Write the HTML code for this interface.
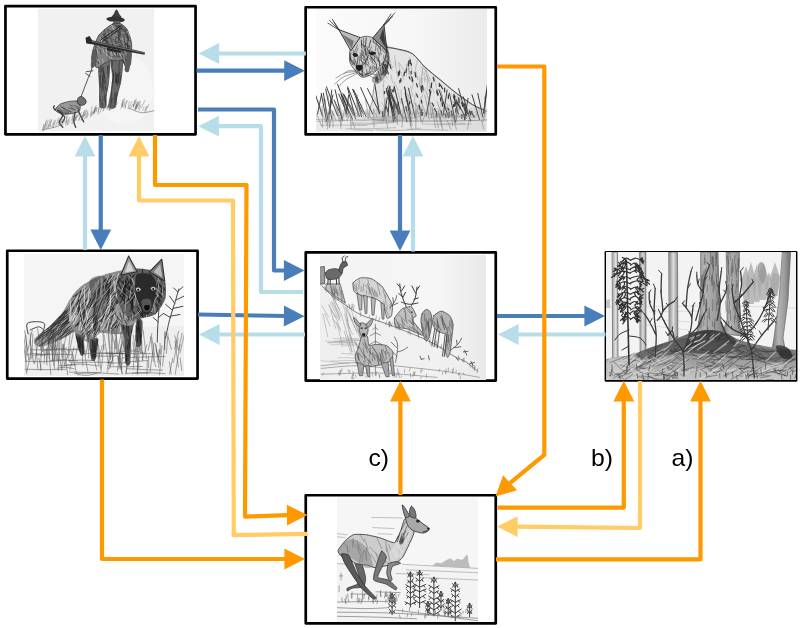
<!DOCTYPE html>
<html><head><meta charset="utf-8"><title>Diagram</title>
<style>
html,body{margin:0;padding:0;background:#fff;}
body{width:800px;height:628px;overflow:hidden;font-family:"Liberation Sans",sans-serif;}
svg{display:block}
</style></head><body>
<svg width="800" height="628" viewBox="0 0 800 628">
<defs><filter id="soft" x="-2%" y="-2%" width="104%" height="104%"><feGaussianBlur stdDeviation="0.32"/></filter><filter id="soft2" x="-2%" y="-5%" width="104%" height="110%"><feGaussianBlur stdDeviation="0.7"/></filter></defs>
<rect width="800" height="628" fill="#fff"/>
<rect x="5.45" y="6.05" width="190.10" height="128.30" fill="#fff" stroke="#000" stroke-width="2.7" stroke-linejoin="round"/>
<rect x="305.65" y="7.25" width="190.10" height="127.20" fill="#fff" stroke="#000" stroke-width="2.7" stroke-linejoin="round"/>
<rect x="7.25" y="250.75" width="190.30" height="127.80" fill="#fff" stroke="#000" stroke-width="2.7" stroke-linejoin="round"/>
<rect x="305.75" y="252.45" width="190.00" height="128.10" fill="#fff" stroke="#000" stroke-width="2.7" stroke-linejoin="round"/>
<rect x="605.95" y="252.30" width="190.15" height="128.20" fill="#fff" stroke="#000" stroke-width="2.7" stroke-linejoin="round"/>
<rect x="305.75" y="495.25" width="190.00" height="128.10" fill="#fff" stroke="#000" stroke-width="2.7" stroke-linejoin="round"/>
<g filter="url(#soft)"><defs><clipPath id="c1"><rect x="38" y="9" width="116.5" height="122.5"/></clipPath></defs>
<g clip-path="url(#c1)">
<rect x="38" y="9" width="116.5" height="122.5" fill="#f1f1f1"/>
<ellipse cx="125" cy="90" rx="28" ry="35" fill="#f5f5f5"/>
<path d="M116.5,9.6 C117.5,9.7 118.7,12.9 119.4,14.3 C120.2,15.7 122.4,17.2 121.1,17.8 C119.8,18.4 113,18.5 111.8,17.8 C110.6,17.1 113.1,15.1 113.9,13.7 C114.6,12.3 115.6,9.5 116.5,9.6Z" fill="#3c3c3c"/>
<path d="M106.2,19.1 C106.2,18.3 108.3,17.3 110.7,17 C113.2,16.7 118.8,16.9 121.1,17.4 C123.4,17.9 124.8,19.1 124.8,19.9 C124.8,20.7 123.4,21.7 121.1,22 C118.8,22.3 113.2,22 110.7,21.6 C108.3,21.1 106.2,19.8 106.2,19.1Z" fill="#333"/>
<path d="M113.4,21.1 L120.3,21.1 L120.7,25.3 L112.8,25.3Z" fill="#5c5c5c"/>
<path d="M98.9,60.9 C100,58.1 108.8,57.6 109.7,59.9 C110.6,62.1 108.6,80.1 108.3,83.7 C107.9,87.3 106.4,93.8 106.2,96.1 C105.9,98.4 106.4,105.8 105.8,106.9 C105.2,107.9 100.6,108.8 100,106.9 C99.4,105 99.7,92.4 99.6,87.8 C99.5,83.2 97.9,63.7 98.9,60.9Z" fill="#707070" stroke="#3c3c3c" stroke-width="0.8" stroke-linecap="round" stroke-linejoin="round"/>
<path d="M111.2,59.9 C112.1,58.2 121.4,58.7 122.3,60.9 C123.3,63.1 121.2,78.1 120.7,81.6 C120.1,85.1 117.5,93.5 117,96.1 C116.4,98.7 116.1,106.2 115.3,107.3 C114.5,108.4 109.1,108.8 108.7,107.3 C108.3,105.7 110.7,94.9 111.2,92 C111.6,89 112.8,80.7 112.8,77.5 C112.8,74.3 110.2,61.5 111.2,59.9Z" fill="#686868" stroke="#3c3c3c" stroke-width="0.8" stroke-linecap="round" stroke-linejoin="round"/>
<path d="M105.7,94.7L105.5,106.4M108.6,65.2L108.9,68.2M104.8,86.8L105.5,89.7M102,102.9L101.9,105.7M107.5,66.4L107.8,73.1M101.2,70L100.3,81.2M100.5,62.9L102,72.4M102.6,74.4L102.4,83.3M102.3,82.5L102.4,88.8M102.9,87.1L104.5,93.1M102.7,76.5L103.5,87.2M100.1,95L100,99.5M99.9,75.9L100.5,87.4M102.6,103.3L102.8,106.4M102.4,68.2L104,74.9M100.7,62.1L99.9,71.3M103.3,71L103.9,82M103.8,79.7L106.6,90.8M108,66L108,77.7M100.6,99.6L101.1,103M104.2,94.2L104.9,101.9M103.3,66.8L104.8,78.6M104.3,75.8L106.1,83.2M102.8,96.8L102.8,100.9M102,82.7L101.9,92.8" fill="none" stroke="#2a2a2a" stroke-width="0.8" stroke-linecap="round" stroke-linejoin="round" opacity="0.7"/>
<path d="M115.3,72.3L116.2,82.2M115.1,95.9L114.6,106.5M112.4,97.9L111,106.3M116,92.2L116.1,95.9M119.7,72.5L117.7,82.4M120.2,75.8L120.4,80.1M119.7,81L119.8,83.8M117.4,73.7L115,82.9M111.4,90.9L111,102.5M117.5,93L115.2,104.6M116.9,74.3L116.1,80.8M112.9,69.2L112.7,71.9M111.5,100.9L110.6,106.9M119.3,60.7L119,72.1M117.2,74.4L116.8,82.7M118.9,78.7L117,86M114.8,99.3L114.1,102.9M115.1,93.3L114.7,99.8M118.9,72.5L118,83.1M113.6,72L112.8,83.6M112.3,82.4L111.8,89.2M113.8,74.4L112.3,82.1M116.9,75L116.5,84M112.6,60.2L112.2,66.5M113.6,104.4L113.1,106.9" fill="none" stroke="#2a2a2a" stroke-width="0.8" stroke-linecap="round" stroke-linejoin="round" opacity="0.7"/>
<path d="M112.8,24 C114.6,23.5 119.4,23.4 121.1,24 C122.8,24.7 126.1,27.7 127.3,29.8 C128.5,32 131,39.6 131.4,42.3 C131.9,44.9 131.6,50 131.4,52.6 C131.3,55.3 130.9,63.4 130.2,65 C129.5,66.7 126.6,67.6 125.7,67.1 C124.7,66.6 124.1,61.2 122.1,60.5 C120.2,59.8 111.4,60.5 108.7,61.3 C105.9,62.1 100.2,66.4 98.7,67.1 C97.2,67.8 96.7,68 95.8,67.1 C95,66.2 92,61.3 91.7,59.2 C91.4,57.2 92.4,52.2 93.1,49.5 C93.9,46.8 96.9,38.5 98.3,36.1 C99.8,33.6 103.9,30.2 105.6,28.8 C107.3,27.4 111,24.6 112.8,24Z" fill="#808080" stroke="#3c3c3c" stroke-width="0.8" stroke-linecap="round" stroke-linejoin="round"/>
<path d="M124.9,55.7L126,63.1M115.8,50.2L117.1,56.3M108.8,41L110.2,53.9M129.4,47.5L130.3,50.2M110.2,37.8L114.3,49.2M112.6,48.2L114.8,52.9M104.6,29.9L107.9,42.5M118.5,31.9L118.4,43.3M122,58.1L123.9,62.9M121.7,54.8L124.3,63.7M127.5,43.9L130.1,56M120.5,45L123.8,51.8M119.5,31.2L119.3,38.3M127.9,37.4L127.3,48M111.7,46.3L113.3,55.9M104.1,33L107.2,45.1M116.5,27.3L116.9,38.1M127.8,32.3L128.3,37.7M117.7,35.8L122.9,46.6M95.9,46.5L96,53.5M98.5,53L101.2,57.3M92.7,55.5L96.7,61.3M124,30.8L128.9,40.1M116.2,56L117.7,58.7M122.1,55.9L122.1,60.3M126,54.4L127.9,61M118,37.7L122.4,45M126.5,29.5L128.1,37.5M112.2,30.2L111.7,37.3M115.8,42.1L121.1,49.9M95.5,51.4L98.8,63.8M100.9,43.2L105,52M108.5,46.7L111.5,51M107.9,28.8L108.7,35.7M112.4,44L116.3,53.4M108.9,46.1L110,51.4M108.3,46.7L111,51.7M123.6,39.8L126.6,51.8M116,36.5L115.4,44.5M125.1,53L130,60.1M108,45L112.4,53.6M94.7,56.6L99.1,65.1M107.3,44L108,52.1M94.9,60.7L95.7,65.7M119.2,25.1L120.9,36.2M120.5,45.5L123.5,53.6M123.4,35.6L125.6,44.2M129.6,58.7L129.5,63.4M103.5,34L105.4,40.8M108.7,53.3L108.6,57.2M124.2,28.2L128.8,40.3M97.5,42L100.6,46.8M117.5,29.6L120.2,35.9M118.4,53.4L119.5,56.9M96.2,47.3L95.6,58.4M95.5,46.3L96.3,53.3M127.3,43.9L128.3,52.1M114.5,30.3L116.1,35.3M98.9,46L101.1,53.9M119.7,44.4L119.3,52" fill="none" stroke="#2e2e2e" stroke-width="0.8" stroke-linecap="round" stroke-linejoin="round" opacity="0.7"/>
<path d="M110.6,52.4L111.5,58.4M102.6,58.9L103.1,62.8M113.9,52.5L118,60M94.7,53.6L97.7,61.3M96.2,42.3L99.9,48.8M116.4,31.1L117.1,36.5M98.5,59.2L99.6,62.3M115.4,44.6L117.1,49.5M119.1,53.1L122.6,59M106.1,46.1L106.5,55.1M92.8,59.5L93.9,63M100.5,42.4L104.3,53M95.8,47.7L100.7,57.1M105.4,51.5L110.1,58.8M100,36.2L103.5,48.4M98.4,63.8L99.3,66.3M122.3,38.8L124.5,43.3M93.3,50.7L92.9,55.9M111.7,25.1L116,35.5M124.8,51.6L128.8,59.9M110.7,51L112.8,55.6M127.2,31L129.1,35.4" fill="none" stroke="#d0d0d0" stroke-width="0.8" stroke-linecap="round" stroke-linejoin="round" opacity="0.7"/>
<path d="M101.2,47.5L109.5,49.7M116.6,26.9L120.6,26.9M102,34.1L108,39.1M124.9,44.6L130.3,47.1M112.5,56L117.3,58.4M121.8,49.5L126.9,50.6M126.1,44.4L129.7,46.4M107.4,58.5L111.4,59.8M111.9,40.7L120.1,42.7M120.1,33.1L127.1,37.8M108,30.5L117.4,32.5M116.1,26L122.3,29.3M115.5,25.4L122.9,26.4M116,30.8L126.2,31.1M127.3,40.3L130.4,41.3M117.3,49.7L125.4,53M101.1,37L107.4,42.1M113.5,24.5L121.6,27M116.8,26.6L123.9,29.9M118.7,39.2L127,43.7M101.7,43.7L108,46.5M106.2,37.5L114.5,39.7M103.6,40.3L108.1,42.9M114.3,55.7L120.5,57.1M123.7,34.3L126.7,34.7M119.4,28.4L126.3,30M124.8,42.9L129.8,46.3M105.1,52L111.4,56.5M112.8,32.3L121.2,37.6M99,36L106.5,40.8" fill="none" stroke="#2e2e2e" stroke-width="0.8" stroke-linecap="round" stroke-linejoin="round" opacity="0.6"/>
<path d="M121.1,25.7 L100.4,40.2M122.3,27.4 L102.5,41.4" fill="none" stroke="#222" stroke-width="0.9" stroke-linecap="round" stroke-linejoin="round"/>
<path d="M127.3,51.6 C128.3,50 131,51.4 131.4,53.7 C131.9,55.9 130.7,62 130.2,65 C129.7,68 129.4,70.7 128.6,71.7 C127.7,72.6 125.3,72.3 124.8,70.8 C124.3,69.4 125.2,66.2 125.7,63 C126.1,59.8 126.3,53.1 127.3,51.6Z" fill="#5c5c5c"/>
<path d="M93.1,49.5 C94,48.7 96.2,50.4 96.7,52.6 C97.1,54.9 96.4,60.5 95.8,63 C95.3,65.5 94.2,67 93.4,67.5 C92.5,68.1 91.1,67.9 90.9,66.3 C90.6,64.7 91.3,60.6 91.7,57.8 C92.1,55 92.3,50.4 93.1,49.5Z" fill="#5c5c5c"/>
<path d="M85.5,37.7 L89.6,36.1 L92.1,40.2 L144.9,52.2 L144.5,54.7 L119,50.1 L92.1,44.3 L86.3,43.5Z" fill="#2b2b2b"/>
<path d="M92.1,41.4 L143.9,53" fill="none" stroke="#bbb" stroke-width="0.5" stroke-linecap="round" stroke-linejoin="round"/>
<path d="M107,48.1 L121.1,51 L120.7,53 L107,50.1Z" fill="#222"/>
<path d="M92.1,67.1 L91.3,70.8 L88.4,77.5 L80.9,97.1M92.9,70.8 L86.3,71.7M90,76.4 L85.5,73.3" fill="none" stroke="#444" stroke-width="0.9" stroke-linecap="round" stroke-linejoin="round"/>
<path d="M55,109.7 C55.2,108.8 58.6,105.2 60.2,104.2 C61.9,103.2 67.2,101.8 69.2,101.5 C71.3,101.1 76.2,100.8 77.5,101.2 C78.8,101.6 80,104.1 80.2,105.2 C80.4,106.4 80.1,110.3 79.3,111.2 C78.5,112.2 75.4,112.8 73.7,113.2 C72.1,113.5 66.5,114.3 64.7,114.2 C63,114.2 59.9,113.3 58.7,112.7 C57.6,112.2 54.8,110.7 55,109.7Z" fill="#9a9a9a" stroke="#3c3c3c" stroke-width="0.8" stroke-linecap="round" stroke-linejoin="round"/>
<path d="M58.2,110.4L62,111.4M71.2,107.2L75.1,110.2M59.8,112L63.6,113.1M65.3,113L66.4,113.7M56.6,109.3L61.3,112.3M63.5,110.2L67.8,113.8M77.7,108.8L78.9,109.2M69.6,110.7L70.3,112.2M64,112.7L66.3,113.4M57.5,110.2L59.1,112.4M76.3,107.8L79.6,109.1M68.3,107.9L74.7,109.5M67.8,110.4L71.4,111.9M61.7,106.7L67.1,110.1M77.5,103.5L78.7,104.3M60.1,111.2L62.8,112.6M74.3,105.7L78.7,107.3M60.8,106.6L64.6,109.3M69.8,105L73,105.9M57.7,108L63,111.3M67.7,110.4L68.9,113.5M64.7,108.7L67.3,112.3" fill="none" stroke="#333" stroke-width="0.7" stroke-linecap="round" stroke-linejoin="round" opacity="0.7"/>
<path d="M77.2,101.2 C77.1,100.4 77.8,98.5 78.2,97.9 C78.7,97.3 80.5,96.3 81.2,96.4 C82,96.5 84.1,97.9 84.7,98.5 C85.3,99.1 86.2,101.1 86.2,101.8 C86.2,102.5 85.5,103.8 85,104.2 C84.5,104.6 82.7,105.4 82,105.4 C81.3,105.4 79.6,105 79,104.5 C78.4,104 77.3,102 77.2,101.2Z" fill="#707070" stroke="#2e2e2e" stroke-width="0.8" stroke-linecap="round" stroke-linejoin="round"/>
<path d="M57.7,110.5 C58.5,111.4 62.2,113.8 62.5,115.7 C62.7,117.7 59.1,120.3 59.2,122.2 C59.2,124.1 62.2,126.4 62.8,127.3M61,112.7 C61.6,113.5 64.5,115.6 64.7,117.2 C65,118.9 62.9,121.6 62.5,122.5M78.2,110.5 C78.6,111.4 79.6,113.8 80.5,115.7 C81.4,117.6 83.2,120.9 83.8,121.9M75.2,112.3 C75,113.7 73.7,118.5 73.7,121 C73.8,123.5 75.4,126.2 75.7,127.3M55,109.7 C54.7,109.4 53.6,108.1 53.5,107.5 C53.4,106.9 54.2,106.2 54.4,106" fill="none" stroke="#3c3c3c" stroke-width="1.3" stroke-linecap="round" stroke-linejoin="round"/>
<path d="M66.1,121.7 L67.3,116.5M48.3,128 L51.5,120.5M121.4,105.5 L123,99.7M59.4,123.6 L63,119.3M128.1,108.5 L129.4,101.5M73.8,121.5 L77.1,114.8M133.4,106 L136.2,99.9M94.3,112.5 L95.4,107M139.1,110.6 L140.8,104.8M136.4,108.7 L139.7,101.4M94.5,113.4 L96.6,107.4M58.3,124.7 L59.2,117.7M46.2,129.5 L48.6,124.9M90.7,114.5 L92.1,106.6M84.5,116 L86.2,109.8M78.6,120.3 L81,115.5M135.9,106.7 L137.4,103.1M121.4,107.1 L123.2,102.7M59.9,124.9 L62.8,121.4M135.1,110 L138.7,103.3M43.3,128.9 L46.4,121.2M84.3,119.1 L87.5,113M72.1,120.3 L73.3,114.9M81.3,120.3 L82.1,115.4M46.1,127.6 L48,120.8M71.7,120 L73.8,112.2M63.1,122.3 L64.4,118.7M112.2,106.4 L114.4,102.9M67.4,125 L69.8,121.1M122.3,106.3 L124.5,98.5M66.7,122.8 L68.7,119.3M67.4,124.5 L69.7,117.4M44.7,128.4 L46.1,124M65.6,125 L66.6,121M138.4,109.2 L140.4,101.4M135.6,108.9 L138.6,101.9M93.1,112.6 L96.4,108.3M135.5,109.9 L138.2,105.1M125,107.5 L127.3,100.5M109.8,109.4 L113.3,104.8M141.4,107.9 L145,100.2M111.3,106.3 L112.5,98.8M142.7,110.7 L144,107.1M107.8,109.6 L111.3,102.9M64.2,121.8 L65.1,114.2M133,106.1 L136.1,99.1M133.2,107.9 L134.6,100.6M111.6,107.3 L114.7,100M90.7,115.2 L91.6,111.8M103.5,110.7 L106.1,103.4M55.9,125.6 L58.2,118.8M42.5,131.4 L43.6,124.3M98.2,112 L99.9,105.1M65.8,123.3 L66.9,115.6M53.4,127.4 L55.7,120.1M86.8,117.9 L87.8,111.1M133.5,106.4 L136.8,101.7M85.6,118.1 L88.9,114M59.8,123.6 L61.6,118.1M98,114.2 L98.9,107.7M74,121.1 L76.9,115.5M92,112.9 L95.3,108.4M78.7,120.4 L81.3,112.6M112.1,108.3 L115.6,103.6M90.2,117 L93.6,112.3M123.7,107.3 L124.9,102M122,106.1 L123.2,99.8M50,126.4 L51.4,119.4M135.7,107.7 L137.5,101.8M106.3,108.1 L109.8,103M60.2,125.6 L61.9,120.8M43.8,127.7 L47,120M125.1,108.2 L126.4,100.6M102.5,111.1 L106,105.1M120.9,108.5 L123.6,104.7M112,108.9 L115.2,102.8M73.1,123 L75.6,117.8M135.2,109 L136.7,104.2M75.5,120.9 L79,113M83.2,117.3 L84.9,110.2M84.4,115.3 L86.8,111.1M113.9,107.7 L117.5,102.8M106.5,108.3 L110.2,104.7M144.7,112.3 L146.4,106.2M50.9,126.6 L54.5,122.3M134.7,109.1 L136.2,105.2M72.7,123.2 L75.8,119.1M112.6,107.9 L114.1,100.2M96.2,111.8 L97.1,108M74.5,119.1 L78.2,115.5M71.6,123.3 L74.6,116.8M109.9,110.5 L112.8,103.2M99.9,112.7 L102.4,106.1M93.9,112.5 L96.2,105.4M48.5,126.9 L50,119.7M82.3,118.8 L84.1,111.5M81.8,117.8 L85.2,114.4M43.4,131.7 L44.7,127.7M130.1,108.7 L132.5,104.4M91.2,115.8 L94.4,111.7M145.6,111.6 L149.1,104.1M81.1,119.9 L83.6,112.8M52.6,127.6 L54.3,120.2M109,110.5 L110,104.5M107.5,108.4 L110.2,101.2M73.5,122.7 L75.3,116.5M128.6,108.9 L132,101.5M110.2,109.3 L112.6,103.2M144.6,109.9 L147.5,106.2M93.5,114.3 L95,108.3" fill="none" stroke="#6a6a6a" stroke-width="0.5" stroke-linecap="round" stroke-linejoin="round" opacity="0.8"/>
<path d="M129.4,108.5 C131.4,109.2 137.7,112.3 141.8,112.7 C145.9,113 152.2,110.9 154.2,110.6M42.4,129.6 C44.5,129.2 51.4,128.1 54.8,127.2 C58.3,126.2 61.7,124.6 63.1,124" fill="none" stroke="#666" stroke-width="0.6" stroke-linecap="round" stroke-linejoin="round"/>
</g><defs><clipPath id="c2"><rect x="316" y="9" width="170.7" height="122.6"/></clipPath><linearGradient id="bg2" x1="0" y1="0" x2="1" y2="0"><stop offset="0" stop-color="#fbfbfb"/><stop offset="0.6" stop-color="#f6f6f6"/><stop offset="1" stop-color="#ebebeb"/></linearGradient></defs>
<g clip-path="url(#c2)">
<rect x="316" y="9" width="171" height="123" fill="url(#bg2)"/>
<path d="M386.2,47.5 C387.8,45.5 397.4,49.4 400,50 C402.6,50.6 410,52 412.5,53.8 C415,55.5 422.2,64.9 425,67.5 C427.8,70.1 437,77.5 440,80 C443,82.5 451.8,90 455,92.5 C458.2,95 469.4,103.1 472.5,105 C475.6,106.9 484.9,109.8 486.2,111.2 C487.6,112.8 497.4,119.1 486.2,120 C475.1,120.9 386.4,122 375,120 C363.6,118 372.5,103.8 372.5,100 C372.5,96.2 373.8,85.5 375,82.5 C376.2,79.5 383.9,73.5 385,70 C386.1,66.5 384.8,49.5 386.2,47.5Z" fill="#e4e4e4" stroke="#777" stroke-width="0.7" stroke-linecap="round" stroke-linejoin="round"/>
<path d="M481.2,116.2L482.5,118.2M441.4,91.5L442.1,98M421.5,76L421.2,91M423.1,66.9L426,71.4M425.4,70.6L429.2,84M432.3,88.1L434.4,93M409.5,57.4L412,72.2M456,113.2L455.8,118.4M458.3,99.3L460.4,109.4M428.2,114.6L429.2,119.8M412.8,111.5L412.1,115.3M437.1,114.2L437,118.2M397.7,71L397.7,77.7M429.9,85L430.3,95.9M408,62.6L410.3,76.7M398.3,111L403.3,119.9M396.4,111.3L397.6,116.1M392.1,96.3L399.5,108.8M375.4,100.4L379.6,106.7M393.4,97.6L394.9,102.9M442.5,101.3L446.6,108.6M459.6,101.1L457.4,113.5M384.1,80L383.2,86.2M374.6,88L377.2,92.9M383.4,93.5L385.9,108.2M401,90.4L401.9,103.3M420.6,85.6L423.7,90M398.8,63.3L400.3,72.8M407.7,94L413.5,106.8M421.8,84.6L422.4,90.1M420,85.6L422.6,90.9M431.6,114.3L431.8,117.5M374.7,97.2L378.7,104.2M419.2,82.7L423.7,92.6M414.9,115.3L417.5,119.6M394.4,88.9L396.9,98.2M386.3,56.3L393.3,67.9M445.4,117.1L445.4,119.2M447.5,103.8L447.3,113.8M413.2,80.6L412.5,88.3M432.4,82.1L429.5,94.8M478.5,108.1L481,115M421.1,96.7L419.1,107.4M406.2,64.3L406.5,76.1M422.4,85.5L427.5,94.6M383.4,84.9L383.3,92.5M440.2,111.4L442,115.1M427.4,76.9L427.2,91.2M457.3,95.2L456.6,108.7M398.1,92.5L401.1,103.8M453.4,111.5L453.7,116.8M475.5,111.6L478.1,116.2M394.3,105.8L399.5,115.6M421.9,65.9L423,75.5M395.8,117.6L396.9,119.3M427.7,108.2L427.9,113.2M427.7,96.4L430.1,103.7M381.6,102.2L387.1,113.4M449.3,104.6L448.4,110.9M391,75.2L392.6,83M433.7,75.2L436.7,88.6M407.6,94.6L409.5,104.8M446,105.2L446.4,114.1M432.8,109.2L432.5,113.7M407.5,64.4L409.1,71.5M415.6,73.9L417.5,79.4M422.8,68.7L420.4,82.7M422.8,93.9L421.1,102M394.1,96.7L396.5,104.9M418,107.2L419.7,112.5M405.7,92.6L405.9,101.3M417.5,60.2L415.5,68.5M426.7,112.3L429.2,117.5M387,49.5L389.5,57.7M476.9,111.5L476.7,115.3M404.9,93.7L408.6,101M388.7,62.3L392.2,70.8M401,72.3L403.8,79.2M414.9,103.2L418.3,108.6M432,108.8L433.6,113.6M426.4,92.4L430.8,105M440.5,90.1L442.6,104.8M424.2,77.4L425,82.8M449.8,113.8L451.5,116.6M384.6,72.9L387.4,78.7M378.2,112.7L379.7,116.3M395.2,114.1L394.8,118.2M450.1,111L454.7,119.7M387.5,55.9L391,62.1M415.6,92.6L413.7,106.6M384.5,106.8L384.9,113.9M415.4,69.1L417.6,78.1M417.8,105.3L416.8,115.9M452,95.2L457.8,104M395.5,61.6L396.7,73M443.6,101.3L443.6,111.1M377.9,103.5L376.5,116.8M394.8,55.4L395.4,65.8M425.3,68.7L430.8,80.7M419.4,77.6L419.3,87.2M410.4,86.5L413.1,96.4M460.3,97.8L459.6,107.2M424.2,72.6L425.7,80M394.2,82L398.4,90.8M391.9,91.4L390.9,98.5M442.5,95.3L440.6,106.9M407.5,62.5L406.6,70.5M373.9,110.6L377.4,118M408.8,66.1L408.6,74.5M422.6,77.9L422,83.1M389.6,91.5L391.2,96.9M439.4,113.8L439.6,117.8M463.6,113.9L465.1,116.7M482.2,114.6L484.3,119M399.2,62.9L405.4,72.8M388.2,92.6L390.7,101.6M426.5,75L429.5,81.6M433.1,106.8L440.4,119.2M430.5,85.2L429.8,96M452.7,100.8L454.8,105.6" fill="none" stroke="#888" stroke-width="0.6" stroke-linecap="round" stroke-linejoin="round" opacity="0.7"/>
<path d="M387.5,47.5 C389.6,47.8 395.8,48.5 400,49.5 C404.2,50.5 408.3,50.8 412.5,53.8 C416.7,56.7 420.4,62.7 425,67 C429.6,71.3 435,75.3 440,79.5 C445,83.7 449.6,87.8 455,92 C460.4,96.2 467.5,101.4 472.5,104.5 C477.5,107.6 482.9,109.5 485,110.5" fill="none" stroke="#444" stroke-width="0.9" stroke-linecap="round" stroke-linejoin="round"/>
<path d="M404.5,87.1 L405.5,90.8M440.4,84.9 L442.6,88.8M406.5,69 L405.9,72.4M459.9,106.5 L460.1,108.9M441.2,110.8 L441.9,115M444.6,88.1 L444.6,91.8M410.4,59.9 L410.1,63.3M449,111.9 L449.1,116.7M419,105.1 L420.1,109.8M463.8,103.2 L464.9,105.6M471.8,111.4 L472.1,114.2M429.4,89.7 L430.5,93.3M436.5,111.6 L436.8,116.4M461.7,114.9 L461.9,117.4M462.1,114.5 L461.7,118.2M448.5,94.8 L448.3,98.6M408.9,60.6 L408.5,65.6M390.7,102.8 L391.3,105.2M409.7,101.7 L409.5,103.9M439.3,83.4 L439.4,86.4M464,114.8 L464.8,119.7M411.1,63.1 L411.4,65.2M400.8,78.7 L401,81.2M386.4,106.9 L387.9,111.6M465.4,107.7 L466.2,111.2M442.1,102.5 L442.6,106.3M469.5,110.9 L470.4,114.9M404.5,72.2 L403.9,75.7M433.2,77.3 L434.1,81M384.4,91.5 L384.5,93.6M440.5,97.9 L440.7,100.9M447.9,108.2 L449,110.1M445,114 L446.2,117.1M437.3,91.4 L438.1,94.2M416.6,94.1 L417.6,97.1M453.9,94.4 L454.5,98.6M411.2,71.3 L411.1,74M399.8,80.4 L399.9,82.7M412.3,78.2 L412.1,81.5M461.6,102.7 L462.8,106.5M464.4,108.1 L465.2,110.3M431.5,83 L431.3,87.5M399.5,70.8 L399.3,74.7M457.1,102.9 L458.3,105.5M455.9,100.8 L456.8,103.9M421.3,86.7 L421,89.2M382.9,111.5 L382.5,116.5M422.7,112.7 L422.3,115.3M451.5,111.2 L451.7,114.8M409.2,76.9 L410,79M437,90 L436.9,92.1M466.1,111.6 L465.5,116.2M465.7,110.2 L467.8,113.8M398.4,72.1 L398.6,75.7M420.8,112.1 L421.1,115.1M405.9,106.6 L406.7,110.9M415,72.4 L415.7,76.8M398.3,102.2 L397.8,106.6M458.7,97.9 L459.1,102.5M387.1,70.4 L388.3,73.8M421.6,89.9 L421.6,91.9M387.6,61.5 L388.5,63.5M472.7,114.2 L474.2,117.3M411.7,76.8 L412.8,80.6M436.8,92.5 L437.9,95.3M393.9,87.8 L394,90.9M389.9,64.7 L390.9,68.4M454.9,102.4 L454.8,106.3M422.4,85.5 L423.1,89.6M421.4,100.4 L421.9,103.1M432.1,103.1 L433.6,106M421.9,109.3 L421.5,112.4M465.6,112.6 L466.7,115.8M393.9,103.6 L394.2,108.2M455.8,108.5 L455.8,112.2M392,89.8 L393.2,91.9M454.1,95 L455.1,97M463.9,104.4 L466.1,108.4M393.7,105.4 L394,109.9M470.6,111.9 L470.5,114M453.5,104.5 L453.5,106.8M451.8,113.5 L453.2,116.1M434.7,108.7 L435.5,111M405.6,91.7 L405.6,94.9M416.5,83.7 L417.4,86.9" fill="none" stroke="#2b2b2b" stroke-width="1.25" stroke-linecap="round" stroke-linejoin="round" opacity="0.9"/>
<path d="M382.7,33.9 C383.5,34.2 386.9,43.2 388.1,47.8 C389.3,52.5 390.1,57.1 389.7,61.8 C389.3,66.4 387.7,72.1 385.7,75.7 C383.7,79.4 380.1,83 377.7,83.7 C375.4,84.4 371.4,82.4 371.8,79.7 C372.1,77.1 377.7,71.7 379.7,67.8 C381.8,63.8 383.5,59.5 384.1,55.8 C384.8,52.2 384,49.5 383.7,45.8 C383.5,42.2 382,33.6 382.7,33.9Z" fill="#8a8a8a" opacity="0.7"/>
<path d="M385.5,44.9L386.5,52.1M386.1,43.5L387.5,47.3M382.6,67.3L383.7,73.7M388.1,62.4L386.2,74M378.1,71.1L381.2,80M385.5,64.5L386.7,67.4M385.8,52L387.8,57.4M383.9,41.3L385.8,44.3M385.6,54.3L383.5,62.8M376.2,78.2L375.8,81.8M375.9,77.2L378.5,82M388.4,62.1L386.3,70M386.1,65.9L385.2,75.1M383.5,68.1L385.3,72.7M383.2,62.2L382.7,74.7M385.5,59.9L388.2,63.8M385.9,49.4L387.3,52.7M387.6,59.4L388.7,64M377.2,75.6L378.3,80M374.8,77.4L377.5,83M380.5,69.5L381.5,75M376.2,76.1L377.5,80.4M383.9,64.3L385.5,68.9M385.9,64.4L386.4,66.8M385.6,51.9L385.8,58M387.9,52.4L388.8,60.2M383.9,71L384.2,75.7M386.4,48L387.7,53M384.2,64.5L385.7,69.3M384,61.1L382.4,68.1" fill="none" stroke="#222" stroke-width="0.8" stroke-linecap="round" stroke-linejoin="round" opacity="0.8"/>
<path d="M359.8,37.9 C361.3,37 364.7,36.3 366.2,36.3 C367.7,36.3 371,36.8 372.8,37.9 C374.6,39 380.2,44.1 381.7,45.8 C383.3,47.6 385.9,51 386.1,52.8 C386.3,54.6 385,59.1 383.7,61.4 C382.4,63.6 376.8,70.4 374.8,72.1 C372.7,73.9 367.8,76.2 366.2,76.7 C364.6,77.3 362.1,77.5 360.8,76.7 C359.5,76 356.1,71.8 354.8,70.2 C353.6,68.5 350.4,64.4 349.9,62.2 C349.3,59.9 349.4,53 349.9,50.8 C350.3,48.6 352.7,45 353.8,43.5 C355,41.9 358.4,38.7 359.8,37.9Z" fill="#d0d0d0" stroke="#444" stroke-width="0.8" stroke-linecap="round" stroke-linejoin="round"/>
<path d="M372.4,66.3L371.9,70.1M366.9,46.3L368.3,53.6M360,73.3L359.8,75.3M372.2,41.4L379.8,46.7M357.5,45L353.8,53.5M382.3,48.4L384.5,52.9M360.8,60.7L367.4,65.3M362.1,48.8L360.9,55.6M361.3,55.7L361.2,60.1M363.1,59.7L366.6,62.2M357,66.8L355.7,70.5M362.3,50.6L364.3,59.1M353.2,50.1L354.2,59.5M362.2,73.7L362.6,76M361.3,43.5L365,46.7M364.6,45.9L365.7,54.8M366.4,53.3L373.7,59.4M351,56.2L350,60.9M372.7,68.2L374.6,70M367.2,48.1L369.1,52.6M368,50L372.1,53.8M363,68.1L362,76.2M373.9,67L375.4,70M360,55.9L359.1,64M350.3,58.4L354.9,65M366.6,69.3L366.8,72.8M362.5,62.3L361.8,71.3M362.5,70.4L361.7,73.5M368.6,57.7L374.6,64.4M383.8,55.6L383.8,58.9M376.3,43.2L375.4,50.7M374,53.3L374.8,61.9M372.9,65.4L376.9,68.4M365.8,62.6L370.8,69M372.7,38L374.3,43.1M361.4,43.6L364,46.9M366.7,51.7L367.5,59.2M358.5,72.8L363.7,76.5M360,52.9L366.4,59.1M363.4,37.7L363.9,42.3M369.6,50L371.1,59.7M379.5,53.2L378.2,61M363.3,42L364.2,49.4M371.9,50.5L370.8,54.3M353.8,59.2L354.3,64M358.1,48.1L355.6,53.9M371.5,46.8L368.7,53.2M364.9,49.2L362.1,55.6M360.2,55.6L365.7,61M365.9,48.1L364.8,57M350.3,57.8L355.6,65.9M378.2,46.2L380.9,50.3M371.9,55.5L372.4,63.1M377.4,48.4L378.7,54.3M360.6,57.7L362.5,63.6M376.9,60.2L381.2,63.6M366.4,73.4L365.6,76.1M365.4,59.6L365.1,67.4M367.3,73.2L368.4,75.5M360.6,69.9L367.5,75.7M375,53.8L379.7,61.1M367.2,58.5L368.8,64.3M355.4,60L354.7,64.3M358.2,69.4L357.7,72.6M380.4,45.2L381,54.8M375.7,41.7L380.7,49.8M355.3,61L357.1,65.6M372.4,38L377,42.4M370.7,66.3L369.4,70.9M365.5,49L366.4,55.9" fill="none" stroke="#333" stroke-width="0.7" stroke-linecap="round" stroke-linejoin="round" opacity="0.75"/>
<path d="M338.9,29.9 L350.9,50.8 L359.8,37.9Z" fill="#bdbdbd" stroke="#333" stroke-width="1.0" stroke-linecap="round" stroke-linejoin="round"/>
<path d="M341.9,33.9 L351.8,48.8 L353.8,40.9Z" fill="#777"/>
<path d="M383.7,24.9 L372.8,37.9 L386.7,50.8Z" fill="#8a8a8a" stroke="#333" stroke-width="1.0" stroke-linecap="round" stroke-linejoin="round"/>
<path d="M383.3,27.9 L379.7,37.9 L386.1,48.8Z" fill="#3a3a3a"/>
<path d="M338.9,29.9 L329.5,20.4M338.9,29.9 L332.3,19.2M338.9,29.9 L327.9,23.1M339.5,30.3 L333.9,21.9M383.7,24.9 L394.7,13M383.7,24.9 L392.9,16.4M383.7,24.9 L390.9,14M384.1,25.5 L389.7,20" fill="none" stroke="#333" stroke-width="0.8" stroke-linecap="round" stroke-linejoin="round"/>
<path d="M352.4,54.2 C352.5,53.6 354.5,52.8 355.4,53 C356.4,53.2 358.3,54.7 358.2,55.4 C358.2,56.1 356,57.2 355,57 C354.1,56.8 352.4,54.9 352.4,54.2Z" fill="#222"/>
<path d="M368.8,53 C368.9,52.4 371.5,51.4 372.8,51.4 C374,51.4 376.3,52.4 376.2,53 C376.1,53.7 373.4,55.4 372.2,55.4 C370.9,55.4 368.7,53.7 368.8,53Z" fill="#222"/>
<path d="M356.2,65.8 C357.2,65.1 360.7,64.5 361.8,65 C362.9,65.5 363.1,67.8 362.6,68.8 C362.1,69.8 360.1,70.9 359,70.9 C358,71 356.7,69.8 356.2,69 C355.8,68.1 355.3,66.4 356.2,65.8Z" fill="#1e1e1e"/>
<path d="M359,70.9 C359.2,71.5 359.3,73.5 360.2,74.1 C361.2,74.8 363,75.3 364.8,74.9 C366.6,74.6 369.8,72.6 370.8,72.1M358.2,56.8 C358.1,57.6 357.7,60.3 357.4,61.8 C357.2,63.3 356.8,65.1 356.6,65.8M368.2,55.8 C367.7,56.8 366.3,60.2 365.4,61.8 C364.5,63.4 363.1,64.8 362.6,65.4M373.8,55.8 C374.6,56.5 377.7,58.5 378.7,60.2 C379.7,61.9 379.6,64.8 379.7,65.8M371.8,57.8 C372.5,58.8 375.4,62 376.2,63.8 C376.9,65.6 376.2,67.9 376.2,68.8M350.9,52.8 C350.8,53.8 349.9,56.8 350.3,58.8 C350.6,60.8 352.6,63.8 353,64.8M361.4,39.9 L361.8,47.8M366.2,37.9 L365.4,46.8M370.8,39.9 L368.8,47.8" fill="none" stroke="#2a2a2a" stroke-width="0.8" stroke-linecap="round" stroke-linejoin="round"/>
<path d="M356.8,71.7 C355,71.9 349.4,71.7 345.9,72.7 C342.4,73.8 337.6,77.2 335.9,78.1M356.8,72.5 C354.7,73.2 347.6,74.8 343.9,76.7 C340.2,78.7 336.2,82.9 334.7,84.1M357.4,73.3 C355.5,74.4 349.1,77.5 345.9,79.7 C342.7,82 339.6,85.7 338.3,86.9M357.8,71.3 C356.3,71.2 351.2,70.4 348.9,70.7 C346.5,71.1 344.7,73.2 343.9,73.7M367.4,72.1 C368.8,71.9 373.4,71.5 375.8,70.7 C378.1,70 380.4,68.3 381.3,67.8M367.8,73.3 C369.3,73.6 374.3,74.7 376.7,74.7 C379.2,74.8 381.7,73.9 382.7,73.7M367.4,74.5 C368.4,75.1 371.7,77.3 373.8,78.1 C375.8,79 378.7,79.4 379.7,79.7" fill="none" stroke="#555" stroke-width="0.55" stroke-linecap="round" stroke-linejoin="round"/>
<path d="M372.6,114 L360.6,87.6M379.7,113.1 L367.5,88.6M329.4,113.4 L331.7,90.1M355.5,118.8 L347.6,88.2M483.5,113 L487.5,83.7M337.5,115.6 L326.5,86.9M426.1,116.2 L430.9,91.2M352.5,119.3 L342.5,95.9M394.5,115.5 L387.6,87.1M415.2,117.8 L408.5,88.2M484.1,113.7 L486.7,90.4M400.6,112.9 L394.2,86.2M466.3,115.6 L458.6,88.6M395.1,120.9 L386.3,90.4M327.8,119.5 L323.3,93.1M365.9,116.4 L353.6,89.7M346.1,113.7 L348.6,95.4M359.6,116.4 L347.7,86.9M410.9,121.3 L405.3,92.6M388.1,116.1 L390,86.4M347.5,114.8 L338.8,94.1M362.2,112.5 L352.6,89.3M479.5,119.4 L472,94.8M326.7,121.5 L321.2,93.3M384.2,116.5 L387.2,97.6M328.9,114.6 L332.9,94.9M317.5,114 L321.4,95.1M466.1,118.6 L455.7,99.1M379.4,113.7 L374.9,84.6M399.8,113.4 L390,94.5M458.4,114.1 L453.5,96.3M342.4,117.9 L334.1,100.1M464.3,119.5 L468.1,98.4M448.7,117.8 L438.9,89.6M455.5,122.3 L449.4,93.1M443.3,114.8 L447.1,90.1M322.2,115.3 L315.3,94.2M393.5,121.9 L388.7,90.8M355,114.8 L344.1,94.6M470.6,120.9 L463.3,96.8M331.9,119.1 L325.7,89.1M398.8,114.3 L388.9,85.9M482.7,116.5 L477.8,93.4M346.4,113.8 L341.1,94.2M342.3,120.8 L335.1,89.8M410.8,113.8 L406,96.1M407,121.8 L401.5,98.4M353.4,115 L342.8,93.5M361.6,116.7 L356.4,97.4M395.4,118.3 L386.3,88.4M402.8,117.8 L390.4,93.1M348.6,112.5 L337.5,84.1" fill="none" stroke="#2e2e2e" stroke-width="1.0" stroke-linecap="round" stroke-linejoin="round" opacity="0.9"/>
<path d="M440.1,122.2 L438.6,109.8M410.8,126.2 L409.7,117.1M357.9,117.3 L356.3,98.3M411.9,125.8 L409.7,104.6M420.7,121.3 L420.8,106.2M393,121.8 L395.5,107.2M435.6,127.8 L431.8,106.2M411.5,129 L406.5,108.9M336,120.2 L332,111.6M327.6,124.2 L329.7,105M341.6,125 L336.7,107.6M467.3,129.4 L469.8,118.6M383.7,121 L385.1,98.7M342.9,120.1 L339.7,104.8M348.8,118.1 L342.7,99.7M410.6,120.2 L407.4,112.4M422.6,121.5 L425.5,113M451,129.5 L447.2,120.4M321.8,126.1 L316.8,114.6M387.8,128.4 L384,108.7M340.8,128.6 L341,112.5M330.4,113.5 L328.1,95.7M327.5,128.9 L328.7,111.9M329.4,127.5 L331.2,119M393.3,118.4 L395.6,102.6M361.2,114.8 L357.2,99.4M333.9,115.3 L329.5,107.1M368.8,117.8 L365.3,98.9M401.3,115.6 L395.2,102.9M358.2,112.8 L357,94.3M347.7,120.8 L342.4,99.3M456.3,120.1 L457.7,105.1M382.8,121.4 L385.6,103.6M374.1,127.1 L373.7,109M384.8,118.6 L379.8,110.3M327.2,125.5 L322.5,114.1M329.6,127.2 L329.5,106.7M363.6,116.7 L361.6,104.8M342.2,120.3 L344.8,108.9M482.8,122.1 L485.5,110.9M368.4,118.7 L365.7,111.2M396.9,121.3 L395.3,110.8M315.9,117.1 L313.3,108.3M322.2,112.9 L318.1,100.8M416,121.8 L415.8,103M438.5,127.9 L435.3,114.5M484.9,115.1 L484.6,96.8M322.6,127.1 L322.1,106.2M441.6,126.7 L440.2,117.1M402,127.1 L403.4,107.5M415.8,128.1 L415.9,110.4M354.7,113 L351.8,103.5M333.1,127.1 L332.7,111.2M423,124.4 L416.8,109.6M452.6,125.6 L451.3,110.6M428.7,113.7 L424.8,95.1M327.8,117.1 L323.5,98.7M442.6,129.6 L439.9,114.7M397.6,124.5 L397.1,105.5M425.9,113.9 L422,104.1M443.2,117.8 L437.1,101.8M325.5,117.2 L325.6,99.6M431.6,117.6 L429.6,102.3M395.4,114.6 L391,93.7M483.7,128.9 L481.7,121.1M456.4,129.4 L452.7,115.2M351.2,129 L350.3,118.4M339.5,121.7 L334.4,99.9M456.5,121.4 L456.7,100.6M354.9,128.2 L348.9,113.4" fill="none" stroke="#6a6a6a" stroke-width="0.6" stroke-linecap="round" stroke-linejoin="round" opacity="0.85"/>
<path d="M316.7,121.4 C319.3,121.3 327,121.1 332.1,121 C337.2,120.8 344.9,120.4 347.5,120.3M362.3,118.2 C366,118 377.1,117.1 384.5,117.2 C391.9,117.3 403,118.7 406.7,118.9M428.5,114.7 C432.4,114.7 444.3,114.9 452.2,115.1 C460.1,115.3 472,115.7 475.9,115.9M355,119.2 C357.4,119.4 364.6,120.2 369.4,120.2 C374.2,120.2 381.4,119.6 383.8,119.5M364.5,120.2 C366.5,120.1 372.7,119.5 376.8,119.3 C380.9,119.1 387.1,119.1 389.1,119M427.9,117.6 C431.9,117.6 443.8,117.3 451.8,117.1 C459.7,117 471.7,117 475.6,116.9M384.6,115.9 C386.9,116.1 393.9,116.6 398.6,116.8 C403.3,117 410.3,117 412.7,117.1M424.8,123.9 C428.8,124 440.5,124.7 448.3,124.7 C456.2,124.8 467.9,124.1 471.8,124M412.5,113.4 C415.9,113.4 426,113.2 432.8,113.3 C439.6,113.4 449.7,114 453.1,114.1M402.5,117.7 C403.8,117.8 408,118.7 410.8,118.5 C413.6,118.3 417.8,116.9 419.2,116.5M379.4,118.7 C381.5,118.8 387.9,118.9 392.1,119.2 C396.4,119.4 402.7,120 404.8,120.1M351,124.3 C353.2,124.3 359.6,124.5 363.8,124.4 C368.1,124.4 374.4,124.1 376.6,124M338.6,115.4 C340.5,115.5 346.1,116.2 349.8,116.2 C353.5,116.2 359,115.5 360.9,115.4M345.7,128.8 C349.8,128.8 362.3,128.9 370.6,128.7 C378.9,128.5 391.4,127.9 395.6,127.7M342,114.1 C344.2,114 351,113.4 355.5,113.3 C360,113.2 366.7,113.3 369,113.4M350.8,122.8 C354.6,122.8 366.2,123.3 373.8,123.3 C381.5,123.2 393,122.6 396.9,122.5M371.6,121.9 C374,121.9 381,121.8 385.7,121.6 C390.4,121.4 397.4,120.8 399.8,120.6M353.4,129.9 C355,129.9 359.8,129.9 363.1,129.9 C366.3,130 371.2,130.2 372.8,130.3M431.7,116.4 C433.7,116.3 439.8,115.9 443.9,115.9 C448,115.8 454.1,116.1 456.1,116.1M375.9,129.7 C379.6,129.8 390.8,130.7 398.2,130.4 C405.7,130.2 416.9,128.6 420.6,128.2M320.6,125.3 C324.4,125.3 336,125.2 343.7,125.2 C351.5,125.3 363,125.5 366.9,125.5M316.3,119.5 C320.2,119.7 332.1,120 340,120.2 C347.9,120.4 359.8,120.5 363.7,120.6M446.3,117 C447.9,116.9 452.6,116.3 455.7,116.3 C458.8,116.3 463.5,116.9 465.1,117M407.5,129.4 C410.8,129.5 420.9,129.6 427.6,129.7 C434.3,129.9 444.4,130.2 447.7,130.2M377.4,122.4 C378.8,122.5 382.9,123.1 385.6,123 C388.3,122.9 392.4,121.9 393.8,121.6M439.3,124.1 C441.4,124 447.8,123.5 452.1,123.4 C456.4,123.3 462.8,123.4 464.9,123.4" fill="none" stroke="#8a8a8a" stroke-width="0.6" stroke-linecap="round" stroke-linejoin="round" opacity="0.8"/>
<path d="M316.2,110 L486.2,107.5 L486.2,131.2 L316.2,131.2Z" fill="#999" opacity="0.18"/>
</g><defs><clipPath id="c3"><rect x="24" y="254" width="160" height="122"/></clipPath></defs>
<g clip-path="url(#c3)">
<rect x="24" y="254" width="160" height="122" fill="#f5f5f5"/>
<path d="M24.1,329.9 L184,325.8 L184,377.1 L24.1,377.1Z" fill="#bbb" opacity="0.12"/>
<path d="M73.3,297.1 C70.2,295.4 66.4,307 63,311.5 C59.6,315.9 57.5,319.1 52.8,323.8 C48,328.4 36.5,335.3 34.3,339.1 C32.1,343 36,346.2 39.4,346.7 C42.8,347.2 49.8,344.1 54.8,342.2 C59.8,340.3 64.7,338.4 69.2,335 C73.6,331.6 80.8,328 81.5,321.7 C82.1,315.4 76.3,298.8 73.3,297.1Z" fill="#9c9c9c"/>
<path d="M65.9,312.4L54.5,322.6M79.1,324.1L71.4,332.3M76.7,320L62.8,333M68.4,321.2L61.3,330.8M77.1,310.4L67.2,316.7M58.1,322.8L46.6,332.6M65.1,310.6L54,325.5M74.6,309.2L63.6,324.2M54.2,332.7L47.9,343.3M72.7,304.9L63.2,318.2M63.3,333.9L60.7,338M65.5,312.8L58.2,324M61.9,316.6L55,323.4M62.9,317.9L55.4,330.6M54.2,323.2L50,330.5M68.4,309L62.9,317.6M58.9,320.1L48.9,332.3M54.8,322.5L48.4,328.3M54,323.1L48.7,330.6M72.1,315.3L58.5,328.6M69.8,316.7L64.6,324.6M72,310.4L62.1,320M54.5,330.8L41.8,338.9M72.9,301.9L59.8,317M65.9,330.9L56.2,341.3M68,309.9L63.5,312.8M67.5,317.2L52.4,325.9M67.6,320.5L57.3,326.7M69.5,329.8L54.9,340.8M53.3,330.2L39.9,338.2M68.7,327.2L53.1,337.3M39,337.6L35.7,340.1M69.4,326.2L65.3,331.9M61,320.3L49.4,336.1M57.2,330.6L50,339.2M42.5,334.3L38.4,337.4M59.7,316.1L47,329.5M48.8,329.3L38.7,339.6M73.2,312.2L59.8,323.6M65.1,316.6L57.6,321.8M64.2,316.5L51.1,329.2M71.9,328.3L65.1,336.7M39.6,337.7L36.3,341.4M55.1,328.8L45,335.2M71.8,308.7L59.1,317.8M53.2,338L48.4,343.6M78,322L63,334.3M48,328L38.5,335.9M70.2,318.8L62.4,326.2M73.6,316.4L63.8,328.7M63.1,313.8L51.8,326.7M74.4,318.4L66.7,324.1M63.1,316.7L58.7,319.2M56.6,327.8L45.2,341.8M62.5,326.3L48.2,340M43.7,342.7L39.1,346M52.2,328L36.6,338.6M68.1,322.3L59.7,327.6M39.3,337.7L36.1,340.4M53.1,336.7L41.1,345.3M45.1,332L40.2,336M61.6,329.1L48.9,340.2M67.4,320.7L58.4,335.4M64.3,324.1L52.9,339.9M44.1,338L40.6,340.8M76.9,325.3L68.1,334.9M68.3,319.7L61,325.8M67.4,310.6L63.9,312.9M70.7,331.5L59.9,339.4M74.9,308.1L63,318.7" fill="none" stroke="#2a2a2a" stroke-width="0.8" stroke-linecap="round" stroke-linejoin="round" opacity="0.8"/>
<path d="M124.5,271.5 C121.6,269.1 115.8,271.7 112.2,272.5 C108.6,273.3 97.5,277 93.8,278.7 C90,280.3 82.9,284.8 80.4,286.9 C77.9,288.9 73.7,293.4 72.2,296.1 C70.8,298.7 68.4,306.2 68.1,309.4 C67.9,312.6 69.1,320.6 70.2,323.8 C71.3,326.9 75.1,333.9 77.4,336.1 C79.6,338.2 87,342.6 89.7,342.2 C92.3,341.8 97.3,333.9 99.9,333 C102.5,332 109.3,334 112.2,334 C115.1,334 121.6,334.6 124.5,333 C127.4,331.3 135.4,324.3 136.8,319.7 C138.2,315 138.2,298.6 136.8,293 C135.4,287.4 127.4,273.9 124.5,271.5Z" fill="#8c8c8c"/>
<path d="M84.5,310L77.5,326M111.1,276.1L109.1,296.7M85.9,288L73.2,297M125.6,305.2L118.9,314M114.2,276L102.5,288.7M127.6,304.9L113.6,321M95.2,328.1L91.2,336M134.4,302.3L126.6,313M103,298.8L96.4,314.6M114.2,283L97.5,298.1M130.3,311.7L122.5,320.8M125.2,312L122,321.4M88.3,325.8L81.1,332.2M110.3,274.7L101.4,285M109.3,273.7L105.5,287.9M110,282.5L107.4,303.5M99.7,308.3L89.3,322.1M106.5,315.3L93.8,325.2M97.7,322.4L93.9,335.1M135.3,308.3L130.4,316.1M96.6,312.5L94.8,330M111.5,275.7L102.3,288.2M114.8,296.4L102.3,311.1M85.4,303.7L77.7,314.8M93.1,293.6L86.2,309.5M88.8,298.2L82.3,304.9M107.2,323.5L105.5,328M123.3,288.4L119.6,303M116.1,278.7L111.1,291.4M125.4,302.5L116.9,310.1M91.2,317.5L79.6,327.5M104.5,285L89.7,299.5M80.7,291.2L75.6,296.2M123.5,295.9L120.9,308.7M122.6,290.7L117,304.4M97,300.4L88.3,307.5M131.8,287.2L117.9,302.5M113.7,308.2L109.1,321.2M108.6,291.8L101.7,298.5M130.2,320.5L123.5,325.9M129.9,312.3L129.1,320M79.9,292.7L69.8,305.5M110.2,295.6L103.8,315.7M100.9,326.8L99.1,331.1M124.7,272L112.2,289M86.6,308.8L79.7,322.8M74,307L72.1,312M92.3,317.2L84.3,328.8M81.2,294.7L78,311.2M117.3,298.4L115.5,309.7M93.8,314.2L83.8,324.5M123.1,315.5L116.8,328.2M102.2,321.2L94,338M99.8,288.8L89.9,304.7M73,301.5L69.3,309.2M132.4,297.9L117.1,310.9M86.1,304.3L82.2,324.3M122.5,318.7L111.3,331.3M75.2,313L74.2,324M121.3,274.6L119.6,284.9M128.6,284.1L126.4,304.8M133.5,312.4L126.8,319.2M120.8,307.6L114,315.6M85.3,315L75.5,325.7M93.4,299.5L87.7,313.3M73.8,306.9L69.1,310.4M119.5,282.8L107,297.9M114.4,308L105.6,323.8M129.8,282L126.4,301.2M131.1,308.1L122.4,325M80.9,290.4L76.5,307M89.7,287.9L75.5,305.1M88.4,321.4L84.8,328.9M108.3,290.4L105.7,299.3M101.1,298.5L97.7,312.2M90.2,326.2L88.3,335.2M101.1,313.8L91.2,332M124.6,310.9L115.3,327.6M127,299.8L112,316.5M100.2,287.7L94.7,306M126.8,288.6L123.6,300.8M81,321.3L74.6,327.1M85.6,332.7L83.5,338.2M118.2,277.6L114.7,297.9M88.2,296.7L77.8,312M98.1,305.8L93.5,322.4M133.7,299.1L128,308.1M87,318.5L85.4,327M132.8,297.9L119.2,312.1M88.4,319.3L83.5,325.7M86.4,324.8L80.5,329.2M104.9,279.5L98,291.6M117.4,319.5L111.1,329.1M112.5,316.1L110.4,324.4M113.1,280.2L104.5,287M90.9,322.4L81.3,336.2M112.6,303.8L108.6,314.6M118.9,296.9L114.4,310.5M102.8,289L93.2,299.1M91,300L80.5,316.8M92.4,331.4L91.4,336.4M121.6,322.9L120.5,327.4M96.7,324L82.8,337.6M108.8,281.8L103.8,292.5M104.4,311.7L101.1,323.7M121.8,273.6L106.6,288.7M133.3,298.6L124.1,313M115.3,292.7L103.6,303.2M109.4,322.9L108.7,330.8M113.6,306.3L105.6,319.5M81.4,308.9L79.5,324.8M112.5,302.9L100.2,321.6M129.4,281.1L116.9,293.7M90.3,333L87.5,336.4M127.1,314L112.2,325.9M118.9,295.8L103.2,311.3M127.3,302.4L116.5,314M79.2,306.6L74.9,311.7M97.1,317.4L91.8,331.9M120.1,299.9L114.9,320.8M117.6,297.4L111,312.5M109.1,287.3L108,299.2M121.9,281.6L116.4,292M95.9,283.4L94.7,293.9M79.7,306.2L78.4,315.4M98.9,300.3L92.6,307.7M95.8,299.5L93.3,321.9M100.7,283.1L92.6,294.3M118.1,290.9L107.2,302M132.2,292.7L128.4,304.9M124.1,316L120.2,325.5M135,305.2L119.5,320.6M89.1,314.4L81,320.7M88.3,331.6L87.2,337.3M91.1,319.6L82.1,326.7" fill="none" stroke="#1f1f1f" stroke-width="0.9" stroke-linecap="round" stroke-linejoin="round" opacity="0.8"/>
<path d="M95.3,282.4L96.9,296.2M120.7,287.2L117.1,299M123.1,285.2L121.5,301.6M109.7,319L106.8,329.7M100.6,277.8L89.1,293.3M105.7,292.7L96.5,305.6M103,300.8L98.2,314.1M79.2,293.1L74.4,301.2M71.3,315.8L70.9,321.9M100.5,295.7L93.2,304.4M96.5,285.8L91.9,297.3M92.6,324.3L90.9,339.9M120.7,315L120.2,328M80.3,303.9L82.7,321.1M110.7,329.3L110.4,333.8M98.6,281.1L95.4,301.4M121.9,297.1L121.1,307.3M135.5,301.5L135.5,311.2M114.6,282.1L116.7,296.8M76.5,308.9L69.8,321.1M136,305.3L135.4,319.2M70.7,301.3L69.8,320.9M125.2,306.7L127,318.7M84.8,286.2L84.2,305.6M131.9,311.5L123.1,322.1M130,317.7L126.5,324M102.1,278L101.9,297.5M91.2,317.9L82.9,332.4M124.1,308.8L117.4,324.7M114,274.6L108,283.3M111.7,311.7L102.5,329.6M128.3,279.7L119,295.5M128.4,310.4L122,319.9M114.2,294.9L103.9,309.9M100.5,308.7L101.9,318M109,306L100,319.7M77.7,297.1L70.4,310.6M125,277.5L121,290.5M122.2,293.5L121.8,308.3M76,315.4L72.6,320.4M97.9,332.1L96,335.6M128.7,285.3L127,304.3M102.1,295.4L96.2,314.4M89.5,310L85.2,327.1M101.4,276.8L100.6,296M92.6,325.7L88.4,330.8M114.6,314.6L113.8,322.5M89.1,332.8L85.9,338.5M98.5,281.4L92.1,293.1M113.6,280.9L114.7,291.6M123.7,284L115.9,295.1M107.7,296.3L104,305.7M80.5,317.7L79.1,330.3M123.1,328.6L120.5,332M108.2,306.5L101.8,325.7M76.1,317.6L73.3,324.1M96,313.8L86,328.2M89.4,287.8L87.6,304.2M95.6,299.8L89.2,310.5M80.8,309.7L73.9,324.6M109.6,293.6L110.7,305.6M114.9,310.2L107.4,319.7M104.1,282.6L105,292M128.5,322.4L126.3,328.9M117.8,310.5L115,321M126.1,305.7L127.4,316.7M128.2,289.6L125.3,306.5M127.3,294.7L125,308.6M100.9,322.3L101,329.9M94.2,331.4L90.8,336.9M75.5,315.3L72.5,319.4M109.3,274.1L104.9,285.3M127,318.3L126.3,326.2M111.1,295.5L100.7,312.2M113.3,320.9L111.2,326.6M135.9,296.4L136.7,303.4M102.3,310.1L98.2,321.3M116,279.7L104.1,294.5M126.1,315.6L122.8,324.2M118.5,273.9L115.9,284.3M92.8,334.4L89.4,341.1M88.6,298.9L85.3,307.8M122.3,321.3L120,332.2M132.1,291L125.6,303.3M85.7,307.6L87.5,319.7M102.4,279.5L100.6,293.9M84.9,331.1L85.5,339.4M88.5,311.6L80.7,329.9M80.4,322.3L81.5,329.5M133.5,319.9L127.4,327.4M130.2,321.3L127.1,328.3M77.6,305.3L73,320.1M93,324.1L89.2,330.2M83.2,288.3L79.6,299.1M111,295.8L108.5,313.1" fill="none" stroke="#e2e2e2" stroke-width="1.0" stroke-linecap="round" stroke-linejoin="round" opacity="0.75"/>
<path d="M89.7,280.7 C91.5,276.6 100.6,274.6 104,276.6 C107.4,278.7 110.2,286.9 110.2,293 C110.2,299.2 106.7,309.1 104,313.5 C101.3,317.9 95.6,321.7 93.8,319.7 C91.9,317.6 93.4,307.7 92.7,301.2 C92,294.7 87.8,284.8 89.7,280.7Z" fill="#222" opacity="0.4"/>
<path d="M120,319.7 C119,321.4 123.5,333.7 124.1,338.1 C124.7,342.5 125.1,361.2 125.7,363.7 C126.3,366.3 129.7,366.3 130.2,363.7 C130.8,361.2 130.7,342.4 131.1,338.1 C131.4,333.8 134.8,322.5 133.7,320.7 C132.6,318.8 121,317.9 120,319.7Z" fill="#5a5a5a"/>
<path d="M127.8,339.2L129.5,347.8M123.4,324.6L123.2,329.8M130.2,336.2L129.5,346.9M125.5,346.4L125.8,362.1M127.3,346.3L128.7,357.3M129.6,339.7L129.3,349.2M127.5,356.2L127.8,360.1M127.8,329.4L129.8,339.7M127,320.9L128.4,333M127.7,344.6L128.8,356M126.3,354.4L126.4,360.6M128.2,322.6L129.3,335.6M131.6,329.5L131.6,333.2M122.4,319.9L124,329.1M126.8,353.7L127.2,360.1M127,354.1L126.3,363.5M126.6,320.5L126.4,333.8M125.5,348L126.8,361.7" fill="none" stroke="#1f1f1f" stroke-width="0.9" stroke-linecap="round" stroke-linejoin="round" opacity="0.8"/>
<path d="M136.8,317.6 C136.1,318.8 135.4,331.1 135.4,334 C135.3,336.9 135.8,345.6 136.4,346.7 C137,347.8 140.7,347.2 141.3,344.7 C141.9,342.2 143,324.4 142.5,321.7 C142.1,319 137.5,316.4 136.8,317.6Z" fill="#5a5a5a"/>
<path d="M138.8,327L139.8,340.3M138.4,326.8L141.1,342.5M138.5,324.1L138.4,333.3M139,320.9L137.7,330.9M139.9,335.1L140.9,343.7M139.9,321.3L140.5,336.4M136,335.8L136,340.8M136.1,325.9L137.7,334.4M138,319.1L136.8,332.7M140.9,334.2L141.3,337.4M139.1,327.9L138.2,335.9M140.5,336L140.7,340.8M138.7,332.6L137.8,341.6M136.9,327.4L137.1,338M136.8,336.2L137.9,342.4M137.7,337.1L137.4,341.7M138.3,320.5L139.6,333.1M137.2,334.5L137.3,343" fill="none" stroke="#1f1f1f" stroke-width="0.9" stroke-linecap="round" stroke-linejoin="round" opacity="0.8"/>
<path d="M89.7,340.2 C89,342.2 90.7,357.7 91.3,359.6 C91.9,361.6 94.7,361.7 95.4,359.6 C96.1,357.6 98.8,341.1 98.3,339.1 C97.7,337.2 90.3,338.1 89.7,340.2Z" fill="#5a5a5a"/>
<path d="M92.7,346.2L92.1,355.9M93.3,354.1L93.4,358M93.4,341L95.8,356.2M91,349L92.1,354.8M93.6,343.5L94.8,358.4M93.1,352.9L94,357.6M95.1,350.9L95.4,354.1M92.5,340.3L92.6,356.2M92.9,349.8L93.6,354M93.1,354.2L92.9,357.4M95.4,350.4L95.7,356.4M95.7,352.1L95.7,357.5M92.9,348.4L94.6,356.7M95,350.8L95.7,354.6M97,339.4L97.2,345.1M94.5,341.2L95.7,349.3M96,341.5L95.9,349.9M96.8,340.1L96.7,345.1" fill="none" stroke="#1f1f1f" stroke-width="0.9" stroke-linecap="round" stroke-linejoin="round" opacity="0.8"/>
<path d="M75.3,334 C75,335.6 79.6,352.5 80.4,354.5 C81.2,356.6 83.2,356.1 83.5,354.5 C83.8,352.9 84.3,340.2 83.5,338.1 C82.7,336.1 75.6,332.4 75.3,334Z" fill="#5a5a5a"/>
<path d="M80.4,347.8L80.5,352.7M80.2,343.1L79.5,349.3M78.4,345.4L79.3,349.8M78.9,336.8L80.5,345.4M79.4,346.4L80,350.4M79.2,338.1L79,342.1M82.6,345.2L83.1,350.7M76.7,336.6L77.8,342.2M82.2,339L83.4,354M82.1,340L82.8,353.4M77.9,338.2L78,342.9M79.7,340L80.6,350.2M76.8,336.6L79.9,351.2M80.2,337.2L83.1,352.9M82.9,346L82.5,354.2M79.6,343.1L79.2,346.4M82.9,344.7L82.7,353.8M82.3,340.3L82.2,352.3" fill="none" stroke="#1f1f1f" stroke-width="0.9" stroke-linecap="round" stroke-linejoin="round" opacity="0.8"/>
<path d="M118.4,303.3 C121.4,302.6 129.6,304.6 132.7,307.4 C135.8,310.1 137.5,316.6 136.8,319.7 C136.1,322.7 131.7,325.5 128.6,325.8 C125.5,326.1 120.7,324.1 118.4,321.7 C116,319.3 114.3,314.5 114.3,311.5 C114.3,308.4 115.3,303.9 118.4,303.3Z" fill="#a8a8a8" opacity="0.8"/>
<path d="M124.9,320.4L126.9,324.8M126.4,318.6L128.6,322.2M132.4,309.2L134,320.6M132.4,313.3L134.2,315.7M128.6,309.8L128.9,320.5M134.8,314.9L135.9,319.3M114.9,311.4L115.8,314.6M121.3,307.7L123.8,314.3M128.2,310.2L132.1,318.4M132.2,314.9L133.9,319.2M123.5,305.2L124.9,313.2M125.2,320.9L126.6,323M117,316.5L118.4,319.4M120,312.5L120.4,316.9M120.3,314L122.8,320.6M122.8,310.1L123.9,318.7M127.8,310.5L131.9,319.5M128.1,312.8L128.8,317.7M125.3,313.8L130.6,321M117.5,317.4L118.3,320.1M134.4,313.4L135.4,318.3M131.8,313.3L134.1,317.4M128.7,315.3L133.3,321.1M126.6,313.7L128.9,319.9M115.9,315L122.3,322.9" fill="none" stroke="#333" stroke-width="0.8" stroke-linecap="round" stroke-linejoin="round" opacity="0.8"/>
<path d="M122.5,271.5 C120.3,272.7 119,276.1 118.4,278.7 C117.7,281.2 116.5,289.7 116.7,293 C117,296.3 118.5,304.4 120.4,307.4 C122.3,310.3 129.8,317.4 132.7,318.6 C135.6,319.8 142.3,318.2 145,317.6 C147.8,317 153.9,315.8 156.3,313.5 C158.7,311.2 164.5,302.2 165.5,298.1 C166.5,294.1 165.9,281.9 164.5,278.7 C163,275.4 156.4,271.6 153.2,270.5 C150,269.3 140.4,268.3 136.8,268.4 C133.2,268.5 124.6,270.3 122.5,271.5Z" fill="#5e5e5e"/>
<path d="M132.5,276L130.5,283.4M142.9,286.8L151.3,295.4M118.5,290.2L123.9,296M137.4,309.9L143.1,317.2M158.6,282.9L163.4,289.6M131.8,309.4L134.5,313.7M147.9,287.1L147.2,294.7M119.6,278.7L118.2,283M132,297.8L132.9,307.8M155.5,303.5L157.7,308.1M142.3,312.4L140.8,316M137.1,306.4L143.9,316.2M154,297.2L147.8,305.2M150.6,298.3L149,309.7M139.8,301.8L149.6,311.9M156.8,282.7L159.5,296.1M117.8,291.6L122.3,298.4M123,280.8L126,296.3M120.6,291L120.1,297.3M134.2,312.8L131.8,315.2M125.3,280.1L130.6,290.6M145.5,281.6L154,288.9M134.7,296.8L124.8,306.6M141.9,299.4L139.6,306.6M135.9,288.4L144.4,298.7M126.9,276.6L129,283.8M121.7,286.7L133.3,297.3M146.7,275.9L151.1,285.4M134.5,274.6L124.8,288.5M139.4,292.7L144.8,298.7M133.4,281.7L128.8,288.9M142.5,275.8L141.9,283M129.5,286.8L137.5,299.1M142.7,307.5L145.4,316.4M158.3,308.9L155.3,313.8M127.8,294.4L129.6,301.5M118.1,282.4L123.8,295.1M163.4,290.9L151.7,303.1M163.3,286.7L165,290M126.3,278.7L122.9,294.3M157.7,292.5L153.8,306.9M153.3,292.4L161.2,305M132.9,308.6L129.7,311.6M122.9,276L119,280.6M133.8,296L138.1,301.7M157,279L161.2,288M128.4,297.9L133,308.1M134,291.4L131.6,307.3M142.3,269.3L143.2,278.1M125.1,292.2L120.3,303.8M132.6,294.4L131.2,309.2M121.9,296.5L126,305.4M154.4,293.9L152.8,308.4M161.2,290.7L158.9,302.5M141.7,303.2L142.7,315.5M162.7,281.4L161,297.8M157.7,275.3L164.7,284.3M120.3,280.5L129.5,290.6M148.9,275.6L138.6,288.7M136.1,292.9L124.6,302.9M124.6,290.1L124.3,300.5M126.3,284.4L123.5,291.1M143.7,290.5L151.4,297.4M147.2,294.1L158.8,306.3M121.8,281.7L132.5,292M129.9,274.9L132.1,290.9M156.7,281.4L160.4,286.7M144.6,303.6L149.5,309.3M150.3,289.8L161.4,301.8M147.7,308.7L151.8,313.3" fill="none" stroke="#1a1a1a" stroke-width="1.0" stroke-linecap="round" stroke-linejoin="round" opacity="0.85"/>
<path d="M142.2,308.9L135.1,315.8M154.1,303.8L151.8,311.6M141.2,284.3L131.8,297.9M159.4,276L155,287.8M163.3,278.9L162.2,294.7M147.9,283.9L158.8,296.2M117.6,287.1L127.8,297.4M159.1,280.4L157.4,296.9M142.4,286.5L148.3,300.1M126.1,298.7L124.9,311.2M123,301.5L120.3,304.5M132.9,314.1L132.4,317.9M133.7,291.9L138.8,304.2M152.3,284L163.7,296.4M144.2,302.9L146.6,317M129,276L134.7,283.1M157.8,295.4L149.6,309.3M147.8,280.5L147.2,290.2M124.7,283.2L120.1,294.2M135.9,292.8L134.7,304.9M132.2,277.9L133.9,285M153,296.9L155.2,312.7M132.8,297.5L124.2,306.6M146.6,286.9L135.5,296.3M131.5,286.3L129.6,298.3M142.2,278L140.4,292M154,291L155.2,303M142.9,292.3L150.1,298.6M139.5,306.2L144.2,314.6M142,303.5L150.6,311.5" fill="none" stroke="#c8c8c8" stroke-width="0.9" stroke-linecap="round" stroke-linejoin="round" opacity="0.7"/>
<path d="M128.6,256.1 L120.8,275 L137.2,271.7Z" fill="#9a9a9a" stroke="#2e2e2e" stroke-width="1.1" stroke-linecap="round" stroke-linejoin="round"/>
<path d="M129,261.2 L124.9,272.5 L133.7,270.9Z" fill="#d5d5d5"/>
<path d="M161.8,259.2 L149.1,272.1 L164.7,281.1Z" fill="#777" stroke="#2e2e2e" stroke-width="1.1" stroke-linecap="round" stroke-linejoin="round"/>
<path d="M160.2,264.3 L153.6,272.1 L162.2,277.4Z" fill="#bbb"/>
<path d="M137.2,274.1 C139,273.1 148.1,273.1 150.3,274.1 C152.6,275.1 155.7,280.2 156.3,282.8 C156.9,285.3 155.8,293.1 155.3,296.1 C154.7,299.1 152.8,306.2 152,308.4 C151.1,310.5 149.1,313.7 148.1,314.3 C147.1,315 144.3,314.9 143.4,313.9 C142.4,312.9 140.6,308 139.7,305.7 C138.8,303.4 136.1,296.7 135.6,294 C135,291.3 135,285.1 135.2,282.8 C135.4,280.4 135.4,275.1 137.2,274.1Z" fill="#2c2c2c"/>
<path d="M141.9,300.2 C143.1,298.5 148.6,298.2 150.1,299.6 C151.7,300.9 151.7,306.3 151.2,308.4 C150.6,310.4 148.4,311.7 147.1,311.9 C145.7,312 143.8,311.3 143,309.4 C142.1,307.5 140.7,301.8 141.9,300.2Z" fill="#555"/>
<path d="M144.2,305.7 C144.9,304.9 148.7,304.7 149.5,305.3 C150.3,305.9 149.8,308.6 149.1,309.4 C148.4,310.2 146.2,310.8 145.4,310.2 C144.6,309.6 143.5,306.5 144.2,305.7Z" fill="#111"/>
<path d="M135.8,288.5 C136.1,287.9 138.4,287.4 139.3,287.7 C140.1,287.9 141.2,289.5 140.9,290.1 C140.6,290.7 138.3,291.6 137.4,291.4 C136.6,291.1 135.5,289.1 135.8,288.5Z" fill="#c8c8c8"/>
<path d="M150.7,288.1 C151,287.5 153.4,286.6 154.2,286.9 C155,287.1 156,288.7 155.7,289.3 C155.4,289.9 153.2,290.7 152.4,290.5 C151.6,290.3 150.4,288.7 150.7,288.1Z" fill="#c8c8c8"/>
<path d="M137.2,289.3 C137.4,289 138.5,288.7 138.9,288.9 C139.2,289.1 139.3,290.3 139.1,290.5 C138.9,290.8 137.9,290.7 137.6,290.5 C137.3,290.3 137,289.6 137.2,289.3Z" fill="#111"/>
<path d="M152.2,288.5 C152.4,288.2 153.5,287.9 153.8,288.1 C154.1,288.3 154.2,289.4 154,289.7 C153.8,290 152.9,289.9 152.6,289.7 C152.3,289.5 152,288.8 152.2,288.5Z" fill="#111"/>
<path d="M98.6,358.3 L102.4,345.2M26.1,361.8 L21.8,333.1M113.1,364.8 L111.9,353.7M136.8,360.4 L133.3,335.3M62.9,351.3 L67.2,330.7M118.9,369 L121.4,350.9M41.2,356.1 L43.5,332M92.1,350.7 L89.1,335M69.7,369.9 L73.7,355.6M164.8,349.8 L164.7,331.8M28.8,359.7 L24.8,330.8M119.9,351.6 L124,329.5M57.3,348.6 L57.7,336.6M27.8,350.6 L32.2,330.2M91.8,359 L87.7,335.6M117.2,352.9 L121.9,330.2M33.7,363.1 L30.1,340.5M67.7,374.9 L63.8,344.2M137.2,373.7 L138.3,358.6M31.9,358.1 L32.8,334M148.1,350.7 L151.9,333.3M117.9,360.4 L122.9,341.9M116.3,348.8 L114.6,330.5M59,360.2 L54.8,343.3M125.1,351.1 L120.2,332.7M153.4,361.6 L150.8,336.8M142.3,359.7 L147,344.7M88.8,358.3 L87.4,330.4M131.1,352.9 L128.7,328.2M180,353 L185,331.6M27,350 L25.8,335.4M122.2,374.1 L118.6,356.6M114.4,352 L114.9,340M135.7,350.1 L137.7,330.6M146.5,358.6 L143.1,330.1M138.7,368.9 L138.7,340.6M40.8,349.6 L37.5,328.6M125.1,350.6 L122.3,327.9M53,360.5 L51.9,338.8M52.6,361.2 L52.9,331.5M174.6,349.1 L178.6,331.2M108.2,362.7 L103.8,333.8M127.2,362.8 L129.5,346.4M139.6,351.1 L139.1,330.9M126.2,349.8 L124.9,333.3M61.8,370.3 L63.1,345.1M164.2,349.3 L165.4,332M89.7,350.2 L90.8,336.1M53.9,350.1 L53.6,332.6M110.2,349 L108.5,332.7M26.4,373.8 L31.3,351.4M181.8,370.5 L180.2,358.1M61.8,369.1 L59,354.9M42.6,351.6 L47.5,330.1M142.8,360.8 L141.5,339.9M125.9,354.6 L126.1,339.1M56.4,360.1 L51.5,330.5M41.5,369.7 L38.9,358.2M160.4,364.5 L155.9,349.7M68.8,356.4 L73.7,329.7M150,372.4 L153.9,343.1M171.2,374.1 L169.4,362M64.3,364.5 L62.8,344.1M158.1,359 L155.8,344.5M98.4,364.6 L97.8,342.7M54.7,359.1 L51.3,342.2M111.5,353.4 L113.1,328.5M47,365 L46.4,347.8M121.4,368.6 L123.8,340.3M58.6,362.8 L53.7,345.7M112.8,360.9 L111,332.9M157.5,362.1 L159.7,349.8M70.3,362.6 L65.3,350.9M171.4,349.5 L167.9,336.2M40.3,370.3 L41.9,339.7M87.9,372 L84.2,351.4M134.7,357.9 L132.9,342.1M86.2,353.2 L90,330.4M115.8,348.6 L110.8,330.8M162.6,366.4 L165.2,337.5M68.4,352.2 L70.3,332.7M61.9,357.2 L60.4,331.6M120.5,362.9 L115.7,333.6M54.7,369.1 L50.6,345.1M46.5,354 L50.6,332.6M59.5,353.8 L58.7,329.4M159.6,375 L161.8,345.5M103.9,350 L102.9,330.7M125.5,374 L129.8,352.4M178.3,350.6 L182.2,333.1M147,374.2 L147.3,360.1M173.3,362.7 L178.2,338.7M52.6,349.9 L53.4,329.1M157.3,355.9 L155.2,343M30.8,359.2 L30.3,332.9M178.3,349.5 L174.7,335.7M116.3,353.7 L116.6,329.7M117.4,370.9 L121.7,344.4M49.2,358.5 L48.2,328.5M70.4,361.2 L74,347.2M126.1,350.9 L126.3,329.4M122.4,373.7 L117.4,356.3M56.5,349.9 L54.5,328.8M160.4,353.8 L160,343.3M44.7,356.6 L41.4,341.8M126.2,373.3 L127.6,355.5M76.4,372.7 L71.6,351.2M142.9,353.9 L138,342.7M158.6,367.3 L159.2,349.7M137.1,350.4 L139.3,333.6M34.5,363.6 L38,342.9M82.9,366 L81.4,337.4M107,372.2 L111.8,361.2M74.8,360.5 L77.9,344.4M109.7,368.3 L113.6,355.9M155.5,366.5 L153,351.7M96.9,350.1 L96,333.7M54.1,365.6 L55.6,339M92.3,348.9 L91.2,329.7M175.2,374.3 L180.1,344.4M51.9,349.1 L46.9,332.9M44,363.7 L45.1,349.4M85.5,355.7 L82.3,333.3M108.8,366 L111.3,352.8M166.4,353.6 L168,333.7M100.5,368.4 L98.6,344.9M133.3,369 L134.2,349.2M125.9,361.1 L125,349M148.7,367.6 L148.5,355.9M118.5,362.6 L120,349.2M135.9,362.6 L136.7,333.1M27,355.9 L22.7,331.3M178.4,367 L175,341M26.2,371.6 L25.6,350.9M107.4,368.8 L110.2,350.9M50.8,374.5 L48.9,350M100.9,371.8 L102.9,354.9M169.5,374 L172.6,358.5M121.8,369.9 L120.9,358.2M96.8,370.1 L92.1,350.5M58.3,370.5 L59.1,342.2M37.8,369 L35.6,340.9M101.6,356.1 L104,344.8M50.3,350.7 L46.2,332.5M154.6,355 L151.7,337.2M137.6,374.3 L137.5,348.8M110.5,359.2 L108.1,334.3M64.1,366.9 L69.1,351.4M140.6,353.3 L141.6,342.6M46.4,361.7 L49.5,339.1" fill="none" stroke="#484848" stroke-width="0.6" stroke-linecap="round" stroke-linejoin="round" opacity="0.8"/>
<path d="M71.6,362.9 C74.9,362.8 84.6,362.2 91.1,362.2 C97.6,362.1 107.4,362.3 110.6,362.4M122.1,357.9 C125.6,357.8 136.3,357.3 143.5,357 C150.6,356.8 161.3,356.6 164.9,356.5M68.6,360.7 C70.7,360.6 76.8,360.2 80.8,360.1 C84.9,360.1 91,360.5 93,360.5M132.3,373.3 C135,373.3 143.2,372.8 148.7,372.8 C154.2,372.9 162.4,373.5 165.1,373.6M44,350 C47.2,349.9 56.8,349.7 63.2,349.5 C69.5,349.4 79.1,349 82.3,348.9M123.4,351.6 C125.1,351.5 130.1,350.7 133.4,350.9 C136.8,351.1 141.8,352.6 143.4,352.9M106.8,353.2 C108,353.3 111.7,354.2 114.1,354 C116.6,353.8 120.3,352.3 121.5,352M110.8,366.7 C113.4,366.7 121.3,366.7 126.6,366.7 C131.8,366.7 139.7,366.5 142.4,366.5M58.8,365.6 C60.2,365.6 64.5,365.7 67.4,365.5 C70.3,365.4 74.6,364.9 76,364.8M69.2,372.1 C71.8,372.1 79.5,372.3 84.6,372.4 C89.8,372.5 97.5,372.5 100.1,372.6M25.2,369.2 C28.7,369.3 38.9,369.7 45.7,369.7 C52.6,369.7 62.8,369.4 66.2,369.3M126.5,373.5 C128.3,373.4 133.6,372.9 137.2,372.8 C140.8,372.7 146.1,373 147.9,373M27.3,354.6 C28.5,354.4 32.3,353.7 34.8,353.6 C37.3,353.6 41,354.2 42.3,354.3M25.8,361.2 C29.2,361.2 39.2,361.8 45.9,361.6 C52.6,361.4 62.7,360 66,359.7M112.4,353.4 C115.6,353.5 125.3,353.7 131.7,353.7 C138.2,353.7 147.9,353.6 151.1,353.6M77.4,374.5 C79,374.6 83.8,375.5 87,375.3 C90.2,375.1 95,373.8 96.6,373.5M36.3,354.1 C37.5,354.2 40.9,355 43.1,354.8 C45.4,354.6 48.7,353.4 49.9,353.1M93.8,355.7 C95.8,355.8 101.8,356.2 105.8,356.2 C109.8,356.3 115.9,355.9 117.9,355.8M57.1,368.2 C58.5,368 62.8,367.2 65.6,367.3 C68.5,367.4 72.7,368.6 74.1,368.8M127.3,368.7 C130.2,368.9 139,369.4 144.9,369.6 C150.7,369.9 159.5,370.1 162.5,370.1M93.1,353.1 C95.7,353.1 103.5,352.8 108.7,352.9 C114,353 121.8,353.6 124.4,353.8M66.9,350.3 C68.5,350.2 73.1,349.4 76.2,349.6 C79.3,349.7 84,350.8 85.6,351M107.6,362.6 C109.5,362.6 115.2,363.1 119,363 C122.8,363 128.5,362.5 130.3,362.4M84.4,353.6 C88.1,353.6 99.4,353.5 106.9,353.5 C114.4,353.5 125.6,353.5 129.4,353.5M50,360.3 C52.3,360.3 59.2,360 63.9,360.1 C68.5,360.3 75.4,360.9 77.7,361.1M65.2,365 C68.1,364.8 76.7,364 82.4,364.2 C88.1,364.4 96.7,365.7 99.5,366M33.5,355.2 C36.8,355.1 46.7,354.6 53.3,354.4 C59.9,354.3 69.7,354.5 73,354.5M74.6,373.6 C78.3,373.5 89.3,372.9 96.6,373 C104,373.1 115,373.8 118.7,374M124.6,362 C126.5,361.9 132.1,361.6 135.9,361.3 C139.6,361.1 145.3,360.8 147.2,360.6M30.4,349.6 C33.4,349.7 42.4,350.1 48.5,349.8 C54.5,349.6 63.5,348.5 66.5,348.2" fill="none" stroke="#555" stroke-width="0.7" stroke-linecap="round" stroke-linejoin="round" opacity="0.8"/>
<path d="M165.5,338.1 C166.2,335 168.1,325.5 169.6,319.7 C171.1,313.8 173.2,308.4 174.7,303.3 C176.3,298.1 178.1,291.3 178.8,288.9M174.7,303.3 L169.6,296.1M175.8,300.2 L184,296.1M172.7,310.4 L165.5,304.3M173.3,308.4 L182.9,306.3M170.6,317.6 L163.5,313.5M171.2,316 L179.9,314.5M177.8,292 L173.7,287.9M178.2,291 L182.9,286.9M157.3,342.2 C157.4,339.8 157.4,333.3 157.7,327.9 C158,322.4 158.7,312.5 158.9,309.4M158.1,321.7 L153.2,317.6M158.3,317.6 L163.5,313.5M28.2,334 C28,332.3 25.8,325.8 27.1,323.8 C28.5,321.7 33.4,321.7 36.4,321.7 C39.3,321.7 43.5,321.9 44.6,323.8 C45.6,325.6 42.8,331.4 42.5,333M30.2,329.9 C31.6,329.4 36.4,327 38.4,326.8 C40.5,326.7 41.8,328.5 42.5,328.9" fill="none" stroke="#333" stroke-width="0.9" stroke-linecap="round" stroke-linejoin="round"/>
</g><defs><clipPath id="c4"><rect x="320" y="255" width="165.5" height="124.4"/></clipPath><linearGradient id="bg4" x1="0" y1="0" x2="1" y2="0"><stop offset="0" stop-color="#f3f3f3"/><stop offset="0.7" stop-color="#f6f6f6"/><stop offset="1" stop-color="#e9e9e9"/></linearGradient></defs>
<g clip-path="url(#c4)">
<rect x="320" y="255" width="166" height="125" fill="url(#bg4)"/>
<path d="M320.1,283.9 C321.9,285.6 326.5,291 330.7,294.5 C335,298 340.7,301.8 345.6,305.1 C350.6,308.5 354.5,311.9 360.5,314.7 C366.5,317.5 375.4,319.8 381.7,322.1 C388.1,324.4 392.4,326 398.7,328.5 C405.1,331 413.6,334.2 420,337 C426.4,339.8 431.3,342.3 437,345.5 C442.7,348.7 449,353.3 454,356.1 C459,359 462.9,360 466.7,362.5 C470.6,365 475.6,369.6 477.4,371 L477.4,379.5 L320.1,379.5Z" fill="#ececec" opacity="0.5"/>
<path d="M320.1,283.9 C321.9,285.6 326.5,291 330.7,294.5 C335,298 340.7,301.8 345.6,305.1 C350.6,308.5 354.5,311.9 360.5,314.7 C366.5,317.5 375.4,319.8 381.7,322.1 C388.1,324.4 392.4,326 398.7,328.5 C405.1,331 413.6,334.2 420,337 C426.4,339.8 431.3,342.3 437,345.5 C442.7,348.7 449,353.3 454,356.1 C459,359 462.9,360 466.7,362.5 C470.6,365 475.6,369.6 477.4,371" fill="none" stroke="#666" stroke-width="0.8" stroke-linecap="round" stroke-linejoin="round"/>
<path d="M330.5,310.1 L335.7,328.4M345.8,307.5 L349,328.8M331.4,301.5 L339.9,318.1M354.1,326 L360.7,338.5M346.1,331.6 L352.1,351.7M347.6,308.8 L354.8,326.9M333,296.7 L340.8,313.4M349.4,334.4 L356.4,356.8M336.7,322.4 L342.3,345M355.7,316 L359.6,329.4M359.1,328.6 L365.7,343.1M341.1,313.4 L346.2,331.5M344.2,331.2 L351,353.6M354.9,341.9 L361.6,354.6M355,341.2 L363,359.1M349.2,314.4 L356.9,332.4M332.4,297.2 L340.1,320.5M324.7,313.3 L330,325.8M332.7,318.5 L340.6,329.6M345.3,306.5 L352.3,321.3M355.8,342.3 L361.7,365.7M333.4,298.3 L339.7,309.4M328.9,304.8 L335.4,317.5M322.9,313.9 L327.7,336.7M356.4,324.8 L362.1,342.1M346.5,323.8 L352.7,342.3M358.2,330 L363.6,349.8M330.5,302.9 L338.9,320.1M342.7,303.5 L348.1,321.6M322,305.7 L328.5,317.1M345.8,319.4 L352.6,334.5M349,329.9 L352.3,341.3M347.8,335.7 L352.3,352.1M344.5,314 L349.6,328.6M335.7,315.6 L340.5,331M351.5,310.7 L357.8,330.7M333.4,302.7 L340.8,316.4M328.6,305.4 L335.4,317.3" fill="none" stroke="#8a8a8a" stroke-width="0.55" stroke-linecap="round" stroke-linejoin="round" opacity="0.8"/>
<path d="M328.4,342.7 L355.3,342.8M340.3,337.8 L358.7,338.8M340.9,346.2 L357.5,345M333,338.4 L359.5,340.3M325.3,341 L351.8,342.1M339.2,343 L354.1,342.6M338.9,340.8 L357.5,340.9M330.6,344.9 L359,343.9M321.3,360.8 L349,363.3M330.9,361 L359.4,360.3M337.8,357.6 L361.8,358.1M327.6,342.9 L344.3,341.5M334.3,341.3 L360.8,339.8M341.3,353.4 L369.8,355.5" fill="none" stroke="#999" stroke-width="0.55" stroke-linecap="round" stroke-linejoin="round" opacity="0.8"/>
<path d="M321.2,365.7 C327.7,365.2 346.9,362.3 360.5,362.5 C374.1,362.7 388.8,365.3 403,366.7 C417.2,368.2 432.7,369.7 445.5,371.4 C458.2,373.2 473.8,376.4 479.5,377.4M321.2,374.2 C331.3,374 362.4,372.6 381.7,373.1 C401.1,373.7 427.8,376.7 437,377.4M321.2,368.4 C327,368 345.1,365.7 356.2,365.7 C367.4,365.7 382.8,368 388.1,368.4" fill="none" stroke="#8a8a8a" stroke-width="0.7" stroke-linecap="round" stroke-linejoin="round"/>
<path d="M320.5,266.9 L324.4,266.4 L324.8,283.9 L320.5,283.9Z" fill="#9a9a9a" stroke="#4a4a4a" stroke-width="0.7" stroke-linecap="round" stroke-linejoin="round"/>
<path d="M326.5,283.9 L340.1,283.9 L342.6,292.4 L345.2,303 L332.9,294.5 L326.5,289.8Z" fill="#c4c4c4" stroke="#4a4a4a" stroke-width="0.7" stroke-linecap="round" stroke-linejoin="round"/>
<path d="M330.9,285.8L331.7,292.7M336.5,289.2L337.7,295.7M335.4,285.6L335.2,290.1M336.7,289.6L336.6,293.4M337.7,292.1L338.3,295.2M335.3,290.4L335.2,293.3M334.2,287.8L334.6,295.4M332,287.5L332.7,294.3M332.7,284.1L334.2,290.9M341.2,290.8L342.1,297.3M330.4,285L331.9,291.9M339.2,286.7L341.1,295.5" fill="none" stroke="#555" stroke-width="0.6" stroke-linecap="round" stroke-linejoin="round" opacity="0.8"/>
<path d="M325.4,272.8 C325.6,272 327.7,270.3 328.6,269.8 C329.6,269.4 333.9,268.6 335,268.6 C336.1,268.6 338.6,269.4 339.2,269.8 C339.9,270.3 341.7,272.1 341.8,272.8 C341.9,273.5 340.6,276.1 340.1,276.6 C339.6,277.2 337.6,278.5 336.7,278.8 C335.8,279.1 331.8,279.7 330.7,279.6 C329.7,279.6 327,279 326.5,278.3 C326,277.7 325.2,273.7 325.4,272.8Z" fill="#6a6a6a" stroke="#333" stroke-width="0.7" stroke-linecap="round" stroke-linejoin="round"/>
<path d="M338.4,270.3 L340.9,263.9 L342.6,261.8 L346.5,261.8 L347.7,265.2 L344.8,266.9 L343.1,268.6 L342.2,273.2Z" fill="#606060" stroke="#333" stroke-width="0.7" stroke-linecap="round" stroke-linejoin="round"/>
<path d="M328.2,278.6 L327.8,284.3M330.3,279.2 L330.1,284.3M336.3,278.8 L336.7,284.3M338.8,277.5 L339.2,283.9" fill="none" stroke="#333" stroke-width="1.0" stroke-linecap="round" stroke-linejoin="round"/>
<path d="M343.1,262.2 C342.9,261.5 342,258.9 342.2,257.9 C342.4,257 344,256.5 344.3,256.2M345.2,261.8 C345.3,261.1 345.4,258.4 345.8,257.5 C346.3,256.7 347.4,256.8 347.7,256.7" fill="none" stroke="#333" stroke-width="0.9" stroke-linecap="round" stroke-linejoin="round"/>
<path d="M353.1,282.8 C353.7,281.5 358.7,278.3 360.5,277.9 C362.3,277.5 369,277.8 371.1,278.6 C373.2,279.4 380,284.2 381.7,286 C383.4,287.8 387.1,294.7 388.1,296.6 C389.2,298.5 392,303.2 392.4,305.1 C392.7,307 392,314.4 391.5,315.7 C391,317.1 387.9,318.7 387.3,318.3 C386.6,317.9 385.7,313 385.1,311.5 C384.6,310 382.9,304.4 381.7,303 C380.6,301.6 375.4,298.4 373.2,297.7 C371.1,296.9 362.4,296.2 360.5,295.6 C358.6,294.9 354.9,292.6 354.1,291.3 C353.4,290 352.4,284.2 353.1,282.8Z" fill="#d4d4d4" stroke="#4a4a4a" stroke-width="0.8" stroke-linecap="round" stroke-linejoin="round"/>
<path d="M390.1,304.1L390.1,310M371.5,287.9L374.4,297M353.6,286.7L356.1,290.9M377.3,283L380.7,286.4M361.3,286.6L361,291.4M367.3,284.6L370.6,289M366.3,290.4L366.6,294M374.5,290.5L377.6,296.1M356.1,283.9L357.1,289M359.4,279.9L358.7,289.1M369,287.5L370.2,292M371.9,289.7L374.5,295.3M390.8,303.2L391.8,306.1M383.3,305.8L389.7,316.7M387.3,305.7L386.9,310.8M383.7,301.4L385.4,309.6M354.1,284.4L358.1,293.8M371.6,287.1L375.7,291.5M365.5,285.3L368.6,289.6M371.4,293.3L372.3,297M367.8,279.4L369.2,285M374.5,291.6L375.9,296.5M385.2,294.8L386,305M367.6,283.7L370.1,292.8M377,292.1L377,297.1M377.2,283.6L380.1,295.4M369.4,290.8L369.1,294.4M370.5,289.8L371,294.4M363.6,284.2L363,291.5M383,290.1L385.4,297.4" fill="none" stroke="#666" stroke-width="0.6" stroke-linecap="round" stroke-linejoin="round" opacity="0.8"/>
<path d="M356.9,293.4 L359.4,309.8 L361.8,309.8 L362,296.2Z" fill="#b8b8b8" stroke="#4a4a4a" stroke-width="0.7" stroke-linecap="round" stroke-linejoin="round"/>
<path d="M363.5,295.6 L365.2,313.6 L366.9,313.6 L367.3,296.6Z" fill="#b8b8b8" stroke="#4a4a4a" stroke-width="0.7" stroke-linecap="round" stroke-linejoin="round"/>
<path d="M371.1,297.7 L372,315.1 L373.9,315.1 L375.4,299.8Z" fill="#b8b8b8" stroke="#4a4a4a" stroke-width="0.7" stroke-linecap="round" stroke-linejoin="round"/>
<path d="M380.9,302.6 L382.2,319.1 L383.9,319.1 L384.3,305.1Z" fill="#b8b8b8" stroke="#4a4a4a" stroke-width="0.7" stroke-linecap="round" stroke-linejoin="round"/>
<path d="M390.2,307.7 C391.1,306.5 394.3,302.5 395.3,300.4 C396.4,298.4 396.4,296.4 396.6,295.6M392.4,305.5 L397.9,303M393.6,303 L392.8,297.7" fill="none" stroke="#444" stroke-width="0.8" stroke-linecap="round" stroke-linejoin="round"/>
<path d="M394.5,318.3 C395.1,316.5 400.8,310 401.9,308.9 C403,307.9 404.6,307.9 405.5,307.7 C406.5,307.5 410.4,306 411.5,306.8 C412.6,307.6 416,314.6 416.2,315.7 C416.3,316.9 413.2,317.6 413,318.3 C412.8,319 413.3,321.4 414,322.5 C414.8,323.7 419.6,328.9 420.4,330.2 C421.3,331.5 423.9,335.4 422.5,335.3 C421.2,335.2 409.9,329.8 407.2,328.9 C404.6,328.1 397,327.9 395.8,326.8 C394.5,325.7 393.9,320.1 394.5,318.3Z" fill="#c0c0c0" stroke="#4a4a4a" stroke-width="0.8" stroke-linecap="round" stroke-linejoin="round"/>
<path d="M416.8,330.2L418.2,332.7M409.6,326.2L412.3,328.9M417,326.3L417.7,329.3M412.3,315.1L413.6,324.7M412.6,326.7L413.9,331.7M411.4,315.5L412.4,317.6M408.1,310.8L411.4,314.2M396,318.9L398.5,326.7M407.7,326.9L409,328.8M398,323.6L399.7,325.9M401.6,318.5L403.5,328.2M402,320.3L405.2,325.6M405.1,315.5L407,322.9M407.1,308.4L410.7,311.1M411.7,318.8L414.9,329.9M408.3,320.2L414.3,325.3M398.6,324.6L399.6,326.9M412.1,326.8L420.9,334.5M414,329.4L417.7,332.7M412.4,322.1L414.5,323.6M404.9,308.3L405.9,319.4M404.1,309L406,314.6M409.8,320L412.7,324.9M396.6,321.6L404,327.1M398.7,314.8L405.7,321.3" fill="none" stroke="#555" stroke-width="0.6" stroke-linecap="round" stroke-linejoin="round" opacity="0.8"/>
<path d="M406.2,306.8 C405.6,305.3 403.5,300.4 402.6,297.7 C401.6,294.9 400.9,292.6 400.4,290.2 C400,287.9 399.9,284.9 399.8,283.9M411.5,305.5 C412.1,304.2 414.4,300.8 415.3,297.7 C416.2,294.6 416.7,288.8 417,287.1M403,297 L398.7,293.6M401.3,291.1 L404.7,286M400.9,287.7 L397,283.9M414,299.2 L418.3,297.9M415.7,293.4 L411.9,286M416.6,290.2 L419.6,286M401.3,302.1 C402.6,302.5 406.6,304.1 409.4,304.3 C412.1,304.4 416.5,303.2 417.9,303M402.6,297.7 L405.5,292.4" fill="none" stroke="#3a3a3a" stroke-width="1.0" stroke-linecap="round" stroke-linejoin="round"/>
<path d="M410.6,311.9 C410.6,311.6 412.1,311.3 412.3,311.5 C412.6,311.7 412.6,313.1 412.3,313.2 C412.1,313.3 410.6,312.2 410.6,311.9Z" fill="#222"/>
<path d="M422.1,314 C423,311.9 425,309.6 426.4,309.4 C427.8,309.2 429.7,310.6 430.6,312.8 C431.5,314.9 432,318.4 431.9,322.1 C431.8,325.8 430.7,331.7 429.8,334.9 C428.9,338.1 427.4,341.2 426.4,341.2 C425.3,341.2 424.3,338.1 423.4,334.9 C422.5,331.7 421.3,325.6 421.1,322.1 C420.8,318.7 421.2,316.2 422.1,314Z" fill="#a8a8a8" stroke="#4a4a4a" stroke-width="0.8" stroke-linecap="round" stroke-linejoin="round"/>
<path d="M424.6,314.2L424.8,320.8M426.9,321L429.3,330.8M421.5,323.2L423,329.7M425.7,335.7L426.3,338.8M427.3,322L426.8,328.4M430.4,318.6L430.9,321.3M428,321.2L428.4,327.7M428.4,323L429.1,327.2M426,318.9L425.8,330.5M423.7,327.7L424.1,332.9M429,318.6L428.4,325.5M425.6,333.5L426.4,337.4M429.3,327.6L429,336.1M428.6,328.3L428.8,332.2" fill="none" stroke="#444" stroke-width="0.6" stroke-linecap="round" stroke-linejoin="round" opacity="0.8"/>
<path d="M433.8,315.7 C434.7,314.4 439.7,311.1 441.2,311.1 C442.8,311.1 448.6,314.4 449.7,315.7 C450.9,317.1 452.9,322.1 453.1,324.2 C453.4,326.4 452.2,334.2 451.9,337 C451.6,339.8 450.6,349.8 450.2,351.9 C449.7,353.9 448.1,357.4 447.6,357.4 C447.2,357.4 445.6,354.1 445.5,351.9 C445.4,349.7 447.2,337.4 446.3,335.3 C445.5,333.2 438.4,332.2 437,331 C435.6,329.9 433.1,325.8 432.7,324.2 C432.4,322.7 433,317.1 433.8,315.7Z" fill="#b4b4b4" stroke="#4a4a4a" stroke-width="0.8" stroke-linecap="round" stroke-linejoin="round"/>
<path d="M434.5,322.5L434.2,325.6M445.8,332.3L447.8,342.1M434.6,321.9L437.9,329.3M440.5,316.3L444.6,329.6M450.7,324.3L452,329.4M436.8,318L438.4,328M437.2,322.4L440.9,330.3M450.9,319.2L452.6,326.3M448.3,326.9L451.6,335.8M444.8,324.4L447.3,330.6M447.9,327.4L447.5,333.4M449.8,320.8L449.7,327.1M441.8,314.9L442.9,324.8M442.4,318.2L446.3,328.1M442,316.9L444.4,328.5M447.3,332.9L449.4,341.6M437.3,320.2L438.7,326.9M447.5,343.9L448.3,350M448.2,334.4L448.7,341.9M447.9,341.1L449.8,345M437.3,324.8L438.1,330.3M450.1,335L450.7,340.4" fill="none" stroke="#444" stroke-width="0.6" stroke-linecap="round" stroke-linejoin="round" opacity="0.8"/>
<path d="M434.9,328.5 L431.9,345.9M436.6,329.8 L434,346.8M439.5,331 L437.4,348M445.1,334.9 L442.5,356.1M446.8,335.9 L444.2,356.5" fill="none" stroke="#444" stroke-width="0.9" stroke-linecap="round" stroke-linejoin="round"/>
<path d="M450.8,350.2 C452,349.1 456.4,345.8 458.2,343.8 C460.1,341.8 461.1,339 461.6,338.1M454,347.6 L460.8,346.8M457.2,344.6 L456.5,340.2" fill="none" stroke="#444" stroke-width="0.8" stroke-linecap="round" stroke-linejoin="round"/>
<path d="M375.4,375.2 L375.4,324.2M375.4,332.7 L370.1,335.9M375.4,332.7 L380.7,335.3M375.4,341.2 L367.9,345.5M375.4,341.2 L382.8,345.1M375.4,349.7 L369,354M375.4,349.7 L381.7,353.6M375.4,327.4 L372.8,329.6M375.4,327.4 L377.9,329.6" fill="none" stroke="#666" stroke-width="0.7" stroke-linecap="round" stroke-linejoin="round"/>
<path d="M395.6,362.5 C395.9,359.7 397.9,349.7 397.7,345.5 C397.5,341.2 395,338.4 394.5,337M397.7,351.9 C398.6,351.6 401.3,351 403,350.2 C404.7,349.4 406.9,347.7 407.7,347.2M396.6,347.6 L391.3,342.3M397,356.1 L392.4,351.9" fill="none" stroke="#555" stroke-width="0.8" stroke-linecap="round" stroke-linejoin="round"/>
<path d="M358.4,347.6 C357.7,349.6 355.3,354.4 355.2,356.1 C355.1,357.8 356.1,363.6 357.3,364.6 C358.5,365.7 364.4,366.7 366.9,366.7 C369.3,366.7 379.3,365.3 381.7,364.6 C384.2,364 390.2,361.6 391.3,360.4 C392.4,359.1 393.3,353.4 392.8,351.9 C392.3,350.4 388.2,346.2 386.4,345.5 C384.7,344.8 377.1,344.4 375.4,344.4 C373.6,344.4 369.8,346.3 369,345.5 C368.2,344.7 368,337.1 367.3,336.1 C366.6,335.2 362.7,335 361.8,336.1 C360.9,337.3 359,345.6 358.4,347.6Z" fill="#bcbcbc" stroke="#4a4a4a" stroke-width="0.8" stroke-linecap="round" stroke-linejoin="round"/>
<path d="M372.6,347.6L379.7,358.4M376,355L381.6,362.1M381.6,350L382.1,357.2M364.1,339.5L367.5,352.5M377.4,359.8L379.1,364.3M380.5,358.4L381.4,360.9M365.2,342.6L370.7,353.8M369.4,351.2L375.3,358.5M358.3,352.7L362.5,357.8M357.2,353.1L358.4,360.2M364.1,354.8L369.6,361.9M380.5,354.2L380.7,360.9M368.2,362.6L369,366.4M385.3,346.2L387.7,353.5M371.9,346.1L378.3,355.1M359.1,360.1L362.1,364M385.6,351.4L386.2,359.3M382.9,349.2L385.5,354M370.3,347.6L369.8,356.5M363,348L365.3,361.6M358.4,353.2L359,359.7M372.2,357.7L372.3,361.3M382.1,359.8L381.8,363.7M372.4,353.3L375,360.2M388.6,352.8L389.6,356.8M379.4,352.7L384.3,363.4M381.5,350L384.5,360.7M357.2,354.6L359.1,359.5M363.9,361.3L364.1,365.7M377.6,354.9L378.6,364.1M372.9,352.5L380.5,362.1M367.7,360.1L371.2,364.3M359.2,346.8L365,357.6M362.4,342.9L366.4,348.7M369.2,358.8L370.4,362.7" fill="none" stroke="#444" stroke-width="0.6" stroke-linecap="round" stroke-linejoin="round" opacity="0.8"/>
<path d="M357.1,362.5 L359.4,375.7 L362.6,375.7 L363.9,365.7Z" fill="#a8a8a8" stroke="#4a4a4a" stroke-width="0.7" stroke-linecap="round" stroke-linejoin="round"/>
<path d="M365.6,365.7 L367.7,376.7 L369.8,376.7 L369.4,366.3Z" fill="#a8a8a8" stroke="#4a4a4a" stroke-width="0.7" stroke-linecap="round" stroke-linejoin="round"/>
<path d="M381.3,363.6 L386,376.7 L389.2,376.7 L388.1,362.5Z" fill="#a8a8a8" stroke="#4a4a4a" stroke-width="0.7" stroke-linecap="round" stroke-linejoin="round"/>
<path d="M389.8,359.3 L392.4,375.7 L394.5,375.7 L392.8,357.2Z" fill="#a8a8a8" stroke="#4a4a4a" stroke-width="0.7" stroke-linecap="round" stroke-linejoin="round"/>
<path d="M360.5,323.2 C361.6,322.3 364.5,323.2 365.8,324.2 C367.1,325.3 368.1,327.6 368.1,329.6 C368.2,331.5 367.1,335.1 366,336.1 C364.9,337.2 362.7,337.2 361.6,336.1 C360.4,335.1 359.4,331.7 359.2,329.6 C359,327.4 359.4,324.1 360.5,323.2Z" fill="#b5b5b5" stroke="#4a4a4a" stroke-width="0.8" stroke-linecap="round" stroke-linejoin="round"/>
<path d="M360.5,324.7 C359.6,323.2 354.5,317.7 353.7,317.4 C352.8,317.2 354.5,321.7 355.4,323.2 C356.2,324.7 357.9,326.1 358.8,326.4 C359.6,326.6 361.3,326.2 360.5,324.7Z" fill="#aaa" stroke="#4a4a4a" stroke-width="0.8" stroke-linecap="round" stroke-linejoin="round"/>
<path d="M366,324.7 C366.7,323.2 371.9,318.4 372.8,318.3 C373.7,318.2 372.3,322.3 371.5,323.8 C370.8,325.3 369.5,327.1 368.6,327.2 C367.7,327.4 365.3,326.2 366,324.7Z" fill="#aaa" stroke="#4a4a4a" stroke-width="0.8" stroke-linecap="round" stroke-linejoin="round"/>
<path d="M362.2,333.6 C362.6,333.2 364.7,333.2 365.2,333.6 C365.6,334 365.2,335.7 364.7,336.1 C364.3,336.6 363,336.6 362.6,336.1 C362.2,335.7 361.8,334 362.2,333.6Z" fill="#222"/>
<path d="M361.1,328.1 L362.2,328.1M365.2,328.1 L366.2,328.1" fill="none" stroke="#111" stroke-width="1.2" stroke-linecap="round" stroke-linejoin="round"/>
<path d="M391.3,326.5 L392.3,322.8M400,329.9 L399.2,326M419.2,338.2 L418.1,335M334.4,298.7 L334.9,296.4M474.6,370.8 L475,366.6M344.9,303.8 L345,301.5M350,307.8 L348.8,304.1M389.4,326.6 L389.4,322.3M398.7,329.6 L398.6,326.5M477,372.8 L477.9,368.3M369.7,317.7 L369.2,315.4M440.6,348.1 L441.5,344.7M470.8,367.4 L469.5,364.6M463.3,361.3 L464.5,357.8M331.6,296.1 L332.3,293.1M333.8,296.8 L335,292.1M338.7,300 L337.7,297.7M445.5,350.5 L445.6,346.8M350.1,309.3 L349.2,305M338.4,300.4 L337.7,297.4M472.8,368.9 L472.3,363.7M353.3,310.4 L354.2,306M335.9,300.3 L335.2,297.3M441.6,348.5 L441.1,346.1M334.3,297.9 L333.6,293.7M378.6,321.5 L379.7,317.7M410.5,334.9 L409.7,332.3M463,362.2 L462.3,359.4M436.4,347.1 L435.6,341.8M458.8,359.5 L458.6,357M326.2,292 L325.5,287.5M360.5,316.3 L360.8,313.2M347.7,307.8 L346.6,304.9M408.1,333.9 L408.4,330.8M464.4,361.1 L463.1,358M390.2,324.6 L389.4,321.2M410.1,332.6 L409.7,327.4M474.3,369.6 L474.8,365.5M342.2,301.9 L341,296.7M430.3,344.2 L429.1,339.9M396,328.8 L395.5,323.3M332,296.1 L332.6,291M436,346.3 L436.8,341M375.4,321.1 L376.5,316M385.7,325.1 L386.6,321M418.4,336.6 L418.6,332.5M332.7,297 L334,291.9M434.6,344.6 L435.2,340.5M389.4,326.6 L388.3,322M324.8,289.5 L324.8,286.6M429.9,342.6 L430.2,337.3M360.4,313.8 L359.8,309.3M352,308.9 L353,304.5M389.6,326.9 L389.2,322.5M351.3,309.2 L352.1,304M458.5,358.7 L458.8,355.5M341.5,302.8 L342.4,297.8M432,345 L431.4,342.3M391,325.6 L390.3,322M418.5,337 L418,332M464.1,374.8 L463.2,373M448.2,371.3 L448.7,368M366.2,377.7 L365.1,375.6M387.4,371.2 L388.1,368.8M341.7,371.4 L342,368.4M412.9,376.6 L413.5,372M420.8,372.7 L420.8,370.5M322.8,375 L323.2,372.8M360.8,373.9 L361.3,370.7M410.6,377.4 L410.4,373.4M453.1,371.7 L454,367.9M340.1,374.9 L340.4,370.4M376,375.8 L376.8,371.8M458.6,374.9 L459,372.6M426.3,378 L426.6,374.1M352.2,378.6 L353.3,374M399.3,377.7 L399,373.3M445.8,374 L444.9,370.9M401.3,377.5 L401.3,375.7M439,371.5 L439.6,369.3M370,377.7 L369.2,375.6M396.4,377.1 L397.1,373.4M458.8,375.2 L459.8,373.2M353.4,375.5 L353,371.6M414.2,375.4 L414.9,372.1M366.6,374.2 L367.3,369.9M351.5,378.2 L352.5,375M404.6,372.7 L404.7,369.5M409.3,371.2 L410.3,368M379.5,377.8 L379.6,374.6M421.8,371.6 L421.8,368.6M460.5,378.8 L460,375.7M339.7,374.7 L340.3,370.3M390.6,373.7 L389.9,370.2M455.9,372.1 L456.5,370.3M349.4,372.9 L349.8,370.3M372.9,376.3 L372.1,372.4M339.1,375.3 L338.5,373M398.4,374.7 L398.1,371.8M398.2,372.4 L397.6,368.8M414.1,375.5 L414.9,372M445.9,373 L446.4,368.9M452.6,373.7 L452.2,369.2M352.9,379.5 L353.8,377.4M356,377.2 L355.5,375.2M442.3,374.6 L442.9,372.5M379.8,376.8 L378.8,374.5M420.5,378.7 L421.5,376.7M394.8,377.4 L394.8,373.7M348.7,371.6 L347.9,369.8" fill="none" stroke="#666" stroke-width="0.55" stroke-linecap="round" stroke-linejoin="round" opacity="0.85"/>
<path d="M420,356.1 L421.3,359.3M421.3,359.3 L424.2,358.7M428.5,355.7 L429.3,359.9M456.1,357.8 L458.2,360.4M464.6,350.2 L466.7,355.1M463.3,351.9 L468,351.4M471,361.4 L473.1,365.7M469.7,363.6 L474.4,362.5" fill="none" stroke="#444" stroke-width="0.8" stroke-linecap="round" stroke-linejoin="round"/>
</g><defs><linearGradient id="g5" x1="0" y1="0" x2="0" y2="1"><stop offset="0" stop-color="#5c5c5c"/><stop offset="0.4" stop-color="#8c8c8c"/><stop offset="1" stop-color="#c2c2c2"/></linearGradient><linearGradient id="tt5" x1="0" y1="0" x2="1" y2="0"><stop offset="0" stop-color="#8a8a8a"/><stop offset="0.5" stop-color="#dedede"/><stop offset="1" stop-color="#8f8f8f"/></linearGradient><linearGradient id="tr5" x1="0" y1="0" x2="1" y2="0"><stop offset="0" stop-color="#747474"/><stop offset="0.35" stop-color="#b4b4b4"/><stop offset="0.7" stop-color="#9a9a9a"/><stop offset="1" stop-color="#6c6c6c"/></linearGradient><clipPath id="c5"><rect x="606.5" y="252.5" width="189.5" height="127.5"/></clipPath></defs>
<g clip-path="url(#c5)">
<rect x="606" y="252" width="191" height="129" fill="#f3f3f3"/>
<path d="M608,307 L700,306M650,312 L700,311M640,318 L690,322M646,325 L688,330M618,300 L640,303M737,306 L795,308" fill="none" stroke="#d2d2d2" stroke-width="0.7" stroke-linecap="round" stroke-linejoin="round"/>
<path d="M606,300 L610,299 L610,308 L606,308Z" fill="#aaa" opacity="0.6"/>
<path d="M746,266 L751,281.3 L748.5,300 L743.5,300 L741,281.3Z" fill="#a8a8a8" opacity="0.75"/>
<path d="M751,262 L756.5,280.9 L753.8,304 L748.2,304 L745.5,280.9Z" fill="#a8a8a8" opacity="0.75"/>
<path d="M757,264 L762,281.1 L759.5,302 L754.5,302 L752,281.1Z" fill="#a8a8a8" opacity="0.75"/>
<path d="M763,262 L769,279.1 L766,300 L760,300 L757,279.1Z" fill="#a8a8a8" opacity="0.75"/>
<path d="M769,272 L773,284.6 L771,300 L767,300 L765,284.6Z" fill="#a8a8a8" opacity="0.75"/>
<path d="M775,262 L780,277.3 L777.5,296 L772.5,296 L770,277.3Z" fill="#a8a8a8" opacity="0.75"/>
<path d="M761,262 C762.2,262 764.2,263.7 765,266 C765.8,268.3 766.3,273 766,276 C765.7,279 764.2,284 763,284 C761.8,284 759.8,279 759,276 C758.2,273 757.7,268.3 758,266 C758.3,263.7 759.8,262 761,262Z" fill="#999" opacity="0.8"/>
<path d="M773,274 C774.3,272 778.2,273.3 779,276 C779.8,278.7 778.8,286.3 778,290 C777.2,293.7 775.2,298.3 774,298 C772.8,297.7 771.2,292 771,288 C770.8,284 771.7,276 773,274Z" fill="#aaa" opacity="0.8"/>
<path d="M612.5,252 L617.5,252 L618,356 L620,362 L611,362 L612.5,356Z" fill="url(#tt5)" stroke="#666" stroke-width="0.7" stroke-linecap="round" stroke-linejoin="round" opacity="1"/>
<path d="M639.8,252 L645.8,252 L646,350 L640.5,352Z" fill="url(#tt5)" stroke="#666" stroke-width="0.7" stroke-linecap="round" stroke-linejoin="round" opacity="1"/>
<path d="M669,252 L677.5,252 L677.8,338 L669.5,342Z" fill="url(#tt5)" stroke="#666" stroke-width="0.7" stroke-linecap="round" stroke-linejoin="round" opacity="1"/>
<path d="M701,252 L718,252 L719,300 L721,322 L727,336 L715,340 L704,346 L692,350 L697,332 L700.5,310Z" fill="url(#tr5)" stroke="#666" stroke-width="0.7" stroke-linecap="round" stroke-linejoin="round" opacity="1"/>
<path d="M726.6,252 L739.4,252 L738,300 L738.5,322 L744,336 L722,334 L727,320Z" fill="url(#tr5)" stroke="#666" stroke-width="0.7" stroke-linecap="round" stroke-linejoin="round" opacity="1"/>
<path d="M782.7,252 L790.6,252 L788,300 L783,338 L786,354 L772,350 L774,338 L779,300Z" fill="url(#tr5)" stroke="#666" stroke-width="0.7" stroke-linecap="round" stroke-linejoin="round" opacity="1"/>
<path d="M703.5,295.5L703.8,306.4M712.4,257.2L713.7,269.9M704,270.7L703,280.5M717.2,290.1L717,297.3M712.6,321.4L712.6,326.2M713.4,257.1L712.9,267.8M704.9,254.5L704.2,264.2M714.5,322.3L714.3,327.6M707.1,316.1L707.2,329.6M712.4,276.1L712.4,285.2M706.1,298.8L705.8,312M713.4,265L712.4,278.7M718.8,297.5L718.5,305.2M717.1,297.9L717.4,304.4M700,316L700.2,323.3M704.8,313.5L704.3,319.8M712.1,255.6L711.7,264.2M705.1,258.2L705,264.4M702.5,284.6L702.4,291.9M699,321.4L699.2,326.9M718.6,282.2L718.7,292.4M712.8,299.7L712.7,310.6M707.9,309.6L708.4,318M710.6,252.9L710.8,263.6M712.5,256.8L712.3,266.5M713.6,280.2L713.1,292.1M711.6,277.6L711.9,286.1M706.5,299.6L706.9,308.7M715.8,254.2L715.6,266M705.1,269.8L704.6,277.7M702.3,286.8L702,293.6M705.4,278.7L704.7,288.2M717.7,265.5L718.1,276.7M718.4,288.1L718.8,295M710.2,267.3L709.4,279.9M702.2,274.3L701.5,285.4M716.5,279.6L717.2,287.9M716.3,273.7L716.6,283M707.7,284.8L707,292M708,328L707.7,331.1M715.1,318.9L714.8,329.1M704.6,279.3L705,285.8M711.5,275L711.1,281.3M718.8,307.5L717.6,320.6M718.7,298.2L719.9,310.1M702,276L701.6,286.2M707.5,327.1L707.4,330.6M703.8,320.9L703.8,325.8M706.1,267.8L706,280.3M701.9,315.3L700.8,327.7M716.9,252.6L716.6,265.5M704.2,294.2L704.3,304M715.9,252.1L716.5,259.1M700,292.2L700.3,300.7M706.1,303.8L705.9,312.6M702.4,278.3L703.2,288.7M714.5,282.4L715.1,289.8M706.6,300.4L706.1,309.4M716.4,301.8L716.6,310.8M709.4,308.2L709.6,319.8" fill="none" stroke="#555" stroke-width="0.9" stroke-linecap="round" stroke-linejoin="round" opacity="0.6"/>
<path d="M728.5,260L728.7,267.3M736.5,269.3L736.4,277.5M727.6,260.3L728.4,273.7M737.4,314.9L737,322.5M729.6,300.9L729,313.7M738.2,258.8L737.9,270.1M732.6,265.9L732.6,272.6M739,319.5L738.9,327.9M738.6,296.6L737.6,309.4M732.6,284.3L732.4,293.7M727.4,275.8L727,282.1M725.7,300.9L726.2,311.1M732.1,278.7L731.3,286.3M731.2,267.8L731,276M730.3,310.3L730.7,320.7M738.6,259.9L739.3,267.7M736.5,300L737,308.6M727.7,287.8L728.8,299.3M739.5,312.5L739.7,326M734.3,315.8L734.6,323.3M731.7,262.6L732,276.3M730,252.7L730.7,260.1M736.8,280.3L737.1,287.1M728.1,256.6L728.8,263.9M735.2,263.7L736.1,273.6M736.6,283.9L735.6,293.7M728.6,284L729.5,293.4M728.7,321.4L728.5,325.4M728.6,268.2L729.4,281.2M727.1,256L726.7,260.2M738.5,303L737.8,314.9M732.4,259.2L733.2,272.2M738.5,324.1L738.7,328.6M737,302.1L736.3,312.3M734.8,305.5L735.5,318.9M739.3,257.8L738,271.4M735,255.5L734.4,262.5M739.5,304L739.8,307M734.5,296.4L733.8,309.8M728.3,252.3L727.7,258.3" fill="none" stroke="#555" stroke-width="0.9" stroke-linecap="round" stroke-linejoin="round" opacity="0.6"/>
<path d="M606,359 C608,358.7 613.7,357.8 618,357 C622.3,356.2 625.5,356.3 631.7,354.5 C637.9,352.7 648,348.5 655,346 C662,343.5 668.3,341.6 674,339.5 C679.7,337.4 684.7,334.9 689,333.5 C693.3,332.1 696.2,331.6 700,331 C703.8,330.4 708.3,329.8 712,330 C715.7,330.2 716.9,330.2 722,332 C727.1,333.8 735.6,338.7 742.6,341 C749.6,343.3 757.8,344.8 764,346 C770.2,347.2 774.5,347.3 780,348 C785.5,348.7 794.2,349.7 797,350 L797,381 L606,381Z" fill="url(#g5)"/>
<path d="M690,336 C693.3,332.7 700,330.5 706,330 C712,329.5 721,331 726,333 C731,335 735.7,338.8 736,342 C736.3,345.2 733,350 728,352 C723,354 713,354.3 706,354 C699,353.7 688.7,353 686,350 C683.3,347 686.7,339.3 690,336Z" fill="#2e2e2e" opacity="0.6"/>
<path d="M640,352 C644.7,349 659.7,344.3 668,342 C676.3,339.7 686.3,337 690,338 C693.7,339 694.3,345 690,348 C685.7,351 672.3,354 664,356 C655.7,358 644,360.7 640,360 C636,359.3 635.3,355 640,352Z" fill="#3a3a3a" opacity="0.45"/>
<path d="M736,344 C739.7,343 750.7,346.7 760,348 C769.3,349.3 786.7,349.7 792,352 C797.3,354.3 797.3,360.7 792,362 C786.7,363.3 769,361.3 760,360 C751,358.7 742,356.7 738,354 C734,351.3 732.3,345 736,344Z" fill="#3d3d3d" opacity="0.4"/>
<path d="M776,346 C777,344.3 785.3,346 788,348 C790.7,350 793,356.3 792,358 C791,359.7 784.7,360 782,358 C779.3,356 775,347.7 776,346Z" fill="#222" opacity="0.7"/>
<path d="M606,370 L797,368 L797,381 L606,381Z" fill="#c8c8c8" opacity="0.55"/>
<path d="M608,360 C610.5,357.5 619.7,357.3 625,357 C630.3,356.7 638.2,356.2 640,358 C641.8,359.8 641,365.7 636,368 C631,370.3 614.7,373.3 610,372 C605.3,370.7 605.5,362.5 608,360Z" fill="#d8d8d8" opacity="0.6"/>
<g filter="url(#soft2)">
<path d="M692.4,358.9L704,359.1M703,360.2L712.9,353.1M726.3,370.1L733.7,363.8M623.3,370.9L629.7,369.7M706.9,334.9L709.8,332.8M690.1,372.4L703.1,368M701.5,363.8L710.1,360.3M752.4,351.2L763,350.7M789,372.7L795,366.7M779.9,354.6L790.6,355.3M620,362.2L629.1,361.2M790.1,368.4L792.9,366.1M712.8,353.5L724.9,344.9M631,362.9L639.6,355.9M646.2,350.9L659.9,350.4M625.2,379.5L632.7,374.4M753.6,347.8L756,346.4M623.2,360L634.3,352.8M677,353.8L688.8,354.4M715.7,373.6L722.1,369M779.5,371.3L786.5,366.8M747.2,377.1L761.5,367.1M774.5,361L781.1,358M613.4,378.2L625.5,370.3M655.1,371.5L664.3,369M639.5,366.6L646,360.8M712.8,372.9L721.9,370.6M715.3,338.3L721.2,335.3M609.4,375.7L626.7,372.7M610.1,362.5L623.9,357.3M666.9,380L676.4,371.7M746.8,375.2L761.1,373.2M757.5,375.9L770.1,369.4M778.1,373.8L792.2,367.5M770.9,359.5L781.2,357M717.3,361.2L727.6,352.3M746.4,359.9L761.2,353.6M622,368L631.6,358.9M697.9,343.1L709.6,341M723.4,376.2L728.6,372.9M663.5,364.6L670.1,360M779,363.7L794.4,357.2M668.4,364L677.6,357.5M759.9,375.9L770.6,375.7M717.4,347.2L726.8,339.8M765.9,372.7L783,369.9M692.1,345.2L701.1,339M725.5,355.7L739.5,347.9M793.6,353.7L795.5,352M741.3,359.4L754.8,351.7M726.2,353.4L739.7,350.2M760.2,378L768.5,376.4M696.8,340.6L705.1,332.4M739.2,357L753.8,353.3M681.2,370L688.2,370.1M784.1,366.7L793.1,359.6M725.5,375.7L737,370M774,370.2L785.5,370.7M730.4,341.8L736.7,340.9M728.5,366.4L742.4,357M667.2,375.7L677.4,375.3M711.1,368.9L717,366.6M670,369.8L676.1,365M704.7,366.7L718.9,366M786.6,355.6L793.7,355.9M648.3,357.3L661,349.8M728,357.1L740.7,356.5M665.5,350.3L682.3,349.5M645.8,372.8L658,373.6M715.4,341.6L726.9,337.9M682.5,370.5L693.9,367M708.9,351.9L726,352.7M657.4,354.7L666.2,347.7M761.8,375.2L770.9,371.7M642.6,361.7L650.1,361.8M737.2,347.5L742,345M626,367.1L635.5,359.5M707.3,353L717.1,348.1M707.1,339.7L711.6,336.6M727.9,357.4L741.3,356.9M747.5,370.9L757.3,370.9M666.2,376.3L681.1,366.2M651.7,366.9L657.8,363.1M764.9,352.2L772.4,351.5M682.9,364.9L689,359M736.3,375.7L743.7,376.2M702.6,368.4L716,363.6M711.4,356.7L718.8,354.5M766.5,379.5L773.6,379.7M617.8,377.7L631.9,372M668.4,354.4L679,350.7M739.9,372.5L749.2,365.8M747.2,351.5L753.7,346.8M703.9,332.7L710.1,332.7M740.6,373.3L751.1,370.8M720.5,356.2L736.1,357.3M655.3,375.7L670.5,373.7M761.6,351.5L778.2,351.4M738.7,368.8L749.5,367.6M671.3,354.5L678.6,347.3M728,362L742.5,352.4M733.2,348.2L745.8,345.5M707.8,350.7L721.5,351.9M739.9,368.6L746.2,369M723.5,367.5L732.7,361.7M653.9,375.5L665.5,371.8M790.7,359.3L796.2,359.7M720.1,368.4L732.7,356.8M636.5,354.6L640.4,351.8M722.7,334.8L727.1,335M706.6,360.7L715,356.5M731.1,358.9L743.7,351.4M635.9,368.2L651,361M688,354.9L696.9,355.5M706,377L717.4,375.2M793,371.2L795.8,370.4M725.2,353.9L730.7,350.1M706.9,338L712,335.8M693,344.6L703.6,341.6M754.6,357.5L772,359M755.8,362L764,357.8M736.8,359.1L750,355.5M653.6,379L670.1,379.3M657.7,352.4L664.8,350.7M711.2,362.3L721.7,357.1M748.3,372.3L753.9,367.3M760.6,361.9L769.1,361M687.1,344.4L697.4,343.6M730.8,379.5L741.9,373.4M748.5,376.2L758.1,372M624.5,374L629.8,369.4M713.8,355.3L723.2,353.5M646.7,363.8L654,357.5M744.5,365.3L751.1,361.4M674.3,366.8L681,363.5M741.5,359.3L758.7,359.6M780.5,353L790.1,352.2M666.7,351.2L683.4,351.7M653.4,349.4L662.7,344.7M681.6,350.6L692,343.2M758.2,357.9L771,357.2M639.7,368.4L649.1,368.3M709.9,359.2L723.7,360M710.4,369.8L715.7,365.3M746.8,375.2L757.1,366.3M633.5,367.8L642.2,365.9M648.1,368.7L662.5,363.8M681.3,348.2L695.4,349.1M700.3,357.8L714.6,355.5M780.8,351.7L794.7,350.8" fill="none" stroke="#2b2b2b" stroke-width="0.9" stroke-linecap="round" stroke-linejoin="round" opacity="0.45"/>
<path d="M696.6,363.6L703.2,367.6M658.3,370.9L669.5,378M712.6,363.7L723.7,365.9M637,375.5L652.7,377.5M620.3,365L630.5,368.4M617.6,375.9L624,379M724.7,339.8L730.3,343.4M638.7,371.2L649,375.1M719.8,354.9L725.8,357.1M674.1,349.4L685.9,357M675.4,356.5L684.9,363.8M611.4,371.5L622.7,376.1M648.4,352.5L662.7,357.9M625.6,358.4L639.6,361.4M671.7,362.6L683.2,364M638,376.4L645.8,379.1M749,375.8L758.1,376.6M753.2,348.4L759.1,350M613.6,361.7L626.5,374.3M702.2,333.1L716.9,337.9M764.9,362.7L776.9,365.7M697.2,362.1L713.9,366.7M661.6,373.9L678.3,378.7M704.4,365.4L711.6,370.1M736.5,365.3L752.9,368.3M686.3,343.6L702.7,350.3M712.9,362L726,373.7M751.2,352L766,360.1M756.7,359.8L766.6,363.2M746.5,359L761,360.5M778.6,370.3L783.7,374.7M708.2,369.9L714.9,372.4M673.5,347L684,356.6M709.4,361.9L721.7,364M739.8,350.9L750.3,353.7M667.8,364.9L674.8,366.2M665.7,365.4L677,373.5M784.5,349.5L789.2,350.1M690.7,340.6L699.3,345.9M674.8,345.4L685.7,348M648.1,376.1L653.3,378.5M637,354.3L651.1,362.2M653.7,354.1L666.1,364.2M649.5,357.8L658.2,364.1M734.6,363.8L743.7,372.6M736,348.8L744.2,354.4M701.5,349.3L708.8,351.6M649.1,358.1L655.4,359.8M759.5,345.7L769.2,354.6M680.3,373.9L683.3,376.5M630,362.8L640.4,371.1M755.8,351.8L763.8,356.3M683.7,350.2L693.8,354M772.8,371.4L786.8,376.3M771.3,372L787.4,375.8M637.2,366.4L645.1,368.8M770.7,361.1L784.7,363.4M708.4,353.5L720.8,359.6M758.9,356.3L768.9,362.1M727.1,350.6L738.5,355.1M742.6,345.4L751.4,353.3M769.4,365.1L779.7,374.9M687.5,351.5L700.6,358.8M627.6,364.9L642.9,373.6M789.5,367.8L794.1,372.2M649.5,376.5L657.3,379.9M750.5,352.3L759.3,356.7M663,376.3L667.9,379M698.1,367.1L710,376.4M670.9,350.3L684.7,361.7" fill="none" stroke="#2b2b2b" stroke-width="0.9" stroke-linecap="round" stroke-linejoin="round" opacity="0.4"/>
<path d="M655.5,364.9L673.8,356.5M707.5,342.3L719.7,333.3M766,361.2L775.5,351.9M634,373.8L652.4,366.9M763.8,367.7L782.6,362.2M655,372.8L671.5,363.2M713.8,352.6L726.3,344.1M762.6,370.3L780.2,365.5M711.9,367.9L725.5,356M690.7,340.5L695.8,336.4M654.4,354.1L667.5,347.4M631,355.6L635,352.4M620,363.3L634.1,359.1M743.3,376.8L751.8,368.7M760,372.2L770.7,367M685,373.7L703.6,367.5M644.8,373L660.2,362.6M632.2,378.6L648.8,370.2M646.4,361.6L661.6,353.7M674.6,366.9L685.8,359.2M637.4,364.8L646.9,356.4M619.2,362.9L633.7,355.1M606.6,379.9L616.8,370.9M657.4,360.7L668.9,350.1M676,372.1L686,362.2M700.8,378.5L714.5,370.8M733.9,346.2L738.5,341.8M779.9,367.4L794.4,356.4M718.3,349.1L729,340.8M622.6,368.4L631.5,363.8M697.8,358.6L708.9,350.9M689.1,338.6L699.8,334.9M663.9,350.6L672.2,342.6M675,353.2L695.7,346.2M630.7,370.6L647.6,358.6M710.2,338L713.9,334.4M697.5,349.8L713.6,338.7M646.8,366.5L666.1,357.5M705.3,376.2L719.6,367.3M724.5,372.3L735.4,368.8" fill="none" stroke="#e6e6e6" stroke-width="1.2" stroke-linecap="round" stroke-linejoin="round" opacity="0.55"/>
</g>
<path d="M684,350 C685.3,348.8 689.3,344.7 692,343 C694.7,341.3 697.7,341.5 700,340 C702.3,338.5 705,335 706,334M688,352 C689.5,350.8 694.2,346.8 697,345 C699.8,343.2 703.7,341.7 705,341" fill="none" stroke="#d0d0d0" stroke-width="1.1" stroke-linecap="round" stroke-linejoin="round" opacity="0.9"/>
<path d="M725.2,376.9 L726.1,371.1M746.9,379.1 L745.5,374.7M784.5,375.8 L785.7,372.4M696.8,371 L696.9,366.2M612.4,370.6 L611.8,364.9M751.7,369.9 L752.6,366.5M724.2,369.5 L722.7,363.9M648.7,370.6 L650.2,365M663.5,379.5 L663.6,374.5M647.9,379.3 L648.5,373.4M775.3,371.6 L774.9,368.1M637,368.8 L636.4,364M610.6,376.1 L610.1,372.2M761.4,373.8 L760.9,369.3M740.4,368.7 L741.8,365.6M748.7,378.1 L747.3,372.8M677.7,374.9 L676.3,371.8M643.5,379.5 L642.6,374.2M782,379.3 L781.5,375.2M707.1,377.3 L705.9,372.1M757.5,378.3 L756.1,372.5M626.9,372.1 L627.2,366.3M672.9,379.1 L673,375.2M668.6,370.1 L667.3,366.7M737.5,380 L736.5,376.8M792.5,374.4 L792.3,370.7M719.9,377.9 L719.7,373.7M620.3,379 L618.9,374.5M765.1,369.6 L765.8,363.7M726.6,377.5 L725.4,373.2M637.6,378.1 L637,373.8M794.9,378.2 L796.3,373.9M700.3,376.8 L700.2,372.9M684.7,369.8 L684.3,363.8M787.6,375.5 L787.6,371.5M626.5,371.3 L627.3,365.7M676.8,377.4 L677.7,372.3M732.8,377.1 L732.4,372M662,373.8 L662.8,368.8M664.4,379.3 L664.8,374.6M612.1,374.6 L611.4,369.5M695.6,377.8 L696.1,372.4M674.4,375.7 L675.1,370.2M674.8,378.1 L675.9,373M790.6,379.5 L790.6,374.9" fill="none" stroke="#444" stroke-width="0.8" stroke-linecap="round" stroke-linejoin="round" opacity="0.8"/>
<path d="M630.5,260.3 C629.8,259.9 627.7,257.7 626.1,258.1 C624.5,258.5 621.7,261.7 620.8,262.4M626.6,260.4 L624.9,262.1M626.6,260.4 L625.4,259.4M624.4,258.6 L623.2,260.9M624.4,258.6 L622.3,257.4M625.7,260.8 L622.8,263.5M625.7,260.8 L624.7,258.3M626.8,261.7 L625.2,263.5M626.8,261.7 L626.5,260.3M630.5,260.4 C631.5,260 634.1,257.8 636.3,258.2 C638.4,258.5 642.2,261.6 643.4,262.3M640.3,259.9 L642.4,261.5M640.3,259.9 L640.5,258.5M640.7,260.1 L642.3,262.7M640.7,260.1 L641.8,258.6M641.6,261.2 L643.1,263.8M641.6,261.2 L642.9,258.8M641.1,259.5 L644.1,261.2M641.1,259.5 L642.1,257.4M630.5,263.9 C629.6,263.5 627.1,261.3 625,261.7 C623,262 619.5,265.3 618.4,266.1M620.2,264.2 L617.5,266.3M620.2,264.2 L618.5,262.3M621.7,263.7 L619,267.1M621.7,263.7 L620.5,261.7M625.8,264.7 L623.5,268.2M625.8,264.7 L623.7,263.3M623.2,264.6 L622.2,267M623.2,264.6 L622.8,263.4M630.5,265.3 C631.2,265 633.1,263 634.6,263.1 C636.1,263.3 638.7,265.7 639.5,266.2M635.1,264.9 L637.9,266.6M635.1,264.9 L636.2,263.1M638.9,266.6 L641.6,268.7M638.9,266.6 L639.9,265.1M638.9,267.2 L640.2,269M638.9,267.2 L639.4,265.8M636.5,265.7 L638,267.2M636.5,265.7 L637.6,264.1M630.5,269.8 C629.2,269.5 625.6,267.3 622.7,267.6 C619.9,267.9 614.8,270.9 613.2,271.6M617.5,270.5 L616.4,273.8M617.5,270.5 L615.6,268.2M615.5,269.4 L613.7,271.1M615.5,269.4 L613.9,268.3M623.7,268.7 L622.4,270.8M623.7,268.7 L623.6,267.7M622.8,268.2 L621,269.8M622.8,268.2 L620.6,266.3M630.5,268.9 C631.3,268.6 633.6,266.5 635.4,266.7 C637.2,267 640.3,269.7 641.3,270.3M636.8,267.4 L639.5,270.9M636.8,267.4 L638,265.7M634.9,267.3 L636.6,269.4M634.9,267.3 L637,266.1M634.4,270.7 L636.5,272.5M634.4,270.7 L635.8,269.7M638,270.9 L640.7,273.7M638,270.9 L638.6,269.3M630.5,273.3 C629.2,273 625.7,270.7 622.9,271.1 C620.1,271.5 615.2,275 613.7,275.8M621,272.2 L618.4,275.7M621,272.2 L618.9,270M615.7,274.3 L614.2,276.8M615.7,274.3 L614.8,273.3M624.3,272.5 L622.8,275.3M624.3,272.5 L621.9,270.8M614.4,275.3 L611.4,277.5M614.4,275.3 L613.8,273.9M630.5,272.7 C631.4,272.3 633.9,270.1 635.9,270.5 C637.9,270.8 641.3,274 642.4,274.7M641.6,274 L643.6,276.8M641.6,274 L643.6,272.9M639.8,274.3 L642.4,277.3M639.8,274.3 L641,273.1M640.8,272 L643.4,275.5M640.8,272 L641.8,270.4M642,273.6 L643.3,275.3M642,273.6 L642.4,271.2M630.5,279 C629.6,278.7 627.1,276.3 625.1,276.8 C623.1,277.3 619.6,281.1 618.5,282M621.2,278.4 L619.1,280.2M621.2,278.4 L621.1,276M621.2,279.1 L618.3,281.5M621.2,279.1 L619,276.9M624.6,278 L623.1,280M624.6,278 L623.2,276.7M623,277.6 L620.2,279.8M623,277.6 L621.9,275.7M630.5,278.2 C631.9,277.9 635.8,275.6 639,276 C642.1,276.5 647.6,280.2 649.3,281M643.2,278.4 L645.3,279.9M643.2,278.4 L644.3,277.1M637.1,279.4 L638.5,281.9M637.1,279.4 L638.9,277.6M641.1,278.3 L643.2,281.4M641.1,278.3 L641.3,276.5M640.1,277.3 L642.7,279.8M640.1,277.3 L641.5,275.2M630.5,283.9 C629.4,283.6 626.3,281.4 623.9,281.7 C621.4,282 617.1,285 615.8,285.7M620.4,284.7 L618.5,287.3M620.4,284.7 L619.2,282.3M618.7,285.4 L615.8,287.5M618.7,285.4 L617.3,283M617.3,282.5 L616.1,284.9M617.3,282.5 L617.1,281.1M624.6,284.6 L622.1,287.9M624.6,284.6 L624.3,282.5M630.5,283 C631.8,282.6 635.2,280.3 638,280.8 C640.8,281.2 645.6,284.9 647.2,285.7M646.8,281.9 L649.7,284.2M646.8,281.9 L648,279.4M645.4,281.6 L647.2,284.2M645.4,281.6 L646.2,280.3M639.8,283.9 L640.8,286.5M639.8,283.9 L640.9,282.9M639.9,283.5 L642,285.1M639.9,283.5 L642.4,281.3M630.5,288.7 C629.7,288.3 627.3,286.4 625.5,286.5 C623.6,286.6 620.3,288.8 619.3,289.3M620.9,287.8 L619.7,290.1M620.9,287.8 L618.6,285.5M624.7,287.3 L621.9,289.9M624.7,287.3 L622.9,286.1M626.2,289.4 L624.3,291.1M626.2,289.4 L623.8,287.5M620.7,287 L618,288.7M620.7,287 L618.6,285.3M630.5,289.3 C631.5,288.9 634.2,286.6 636.4,287.1 C638.6,287.5 642.5,291.2 643.7,292.1M637.4,287.8 L639.5,289.8M637.4,287.8 L637.7,286.5M635.6,288.1 L637.2,290.2M635.6,288.1 L637.5,286.6M639.4,288 L641.1,289.5M639.4,288 L640,286.9M641.4,289.5 L642.8,291.9M641.4,289.5 L643.8,288.3M630.5,294.3 C629.5,293.9 626.9,291.6 624.7,292.1 C622.6,292.5 618.8,296.1 617.6,296.9M622.7,294.3 L620.3,297.8M622.7,294.3 L621.9,292.1M620.1,294.8 L618.3,297M620.1,294.8 L620,293.6M625.4,295.2 L623.9,297.1M625.4,295.2 L625.2,293M618.7,295 L617.2,296.9M618.7,295 L618,293.3M630.5,294.2 C631.3,293.8 633.5,291.8 635.3,292 C637.1,292.2 640.2,294.8 641.2,295.3M640.9,296.1 L643,298.1M640.9,296.1 L643.3,294.6M636.7,292.2 L638.5,294.6M636.7,292.2 L638,290.9M637.8,292.2 L639.3,293.9M637.8,292.2 L638.8,291.1M634.4,293.4 L635.9,296.1M634.4,293.4 L635.7,291.3M630.5,299.9 C629.5,299.5 626.7,297.4 624.5,297.7 C622.3,297.9 618.4,300.7 617.1,301.3M623,301.8 L621.7,304.8M623,301.8 L621.4,300.7M618.6,301.4 L616.3,304.4M618.6,301.4 L616.5,300.2M621.3,299.9 L618.6,303M621.3,299.9 L619.2,298M618.1,300.6 L615.7,302.6M618.1,300.6 L618,299.4M630.5,298.3 C631.3,297.9 633.6,295.7 635.4,296.1 C637.2,296.5 640.4,300.1 641.4,300.9M638.3,298.8 L640.5,301.7M638.3,298.8 L639.5,297.8M640,299.3 L642,301.9M640,299.3 L641.6,298.2M639.5,297.3 L640.7,299.4M639.5,297.3 L641.3,296M639.5,300.2 L641.5,302.5M639.5,300.2 L640.7,298.2M630.5,304.4 C629.7,304.1 627.5,302.1 625.7,302.2 C623.9,302.3 620.8,304.6 619.9,305.1M625.8,303.4 L623.3,305.5M625.8,303.4 L624.3,302.4M626.4,303.5 L624,306.4M626.4,303.5 L624.7,302.1M623.2,304.3 L621.3,306M623.2,304.3 L621,303M620,306.2 L619,308.6M620,306.2 L618,303.7M630.5,303.7 C631.2,303.3 633.2,301.3 634.8,301.5 C636.5,301.6 639.3,304.2 640.2,304.7M639.8,302.5 L642,304.3M639.8,302.5 L641.1,300.1M634.7,305 L636.7,308.2M634.7,305 L636.5,303.6M639.5,303.6 L640.6,305.1M639.5,303.6 L640.7,301.9M635.8,302.2 L637.5,304.4M635.8,302.2 L637.9,301.2M630.5,308.4 C629.7,308 627.6,305.7 625.9,306.2 C624.2,306.6 621.2,310.4 620.3,311.2M622.2,310 L620.6,312.2M622.2,310 L621.2,307.5M623,307.8 L621.2,309.9M623,307.8 L622.9,306.7M621.4,307.5 L618.5,309.5M621.4,307.5 L620.7,305.8M625.7,307.9 L622.8,311.1M625.7,307.9 L623.6,305.9M630.5,310 C631.3,309.7 633.5,307.5 635.3,307.8 C637,308.1 640.1,311.2 641.1,311.9M639.2,308.2 L641.6,310.6M639.2,308.2 L641,306.3M636.2,308.2 L639,310M636.2,308.2 L637.4,306.7M636.3,311 L639.2,313M636.3,311 L637.9,309.5M638,309.6 L639.4,311.4M638,309.6 L638.6,307.2M630.5,314.4 C630,314.1 628.5,311.7 627.3,312.2 C626.1,312.7 624,316.6 623.4,317.4M625.9,313 L624.5,314.7M625.9,313 L625.1,311.9M626.9,313.5 L624.8,316.8M626.9,313.5 L625,311.9M626.1,314.5 L624.3,316.7M626.1,314.5 L625.9,313.1M623.5,313 L621.5,315.7M623.5,313 L621.4,311.6M630.5,313.1 C631.1,312.8 632.6,310.7 633.8,310.9 C635,311.2 637.2,314 637.9,314.6M635.2,314.9 L637.9,318.2M635.2,314.9 L635.3,313.9M636.5,314.7 L638.4,317.4M636.5,314.7 L636.5,313.1M637.5,314.4 L640.2,317.9M637.5,314.4 L638.1,313.3M633.8,313.2 L636.2,316.6M633.8,313.2 L635.6,311.2M630.5,318.8 C629.9,318.4 628.1,316.5 626.8,316.6 C625.4,316.7 623,318.9 622.2,319.4M623.4,317.7 L620.5,320.5M623.4,317.7 L622.6,316.5M626.2,319.3 L623.8,321M626.2,319.3 L626.1,317.5M624.5,318.3 L623,321M624.5,318.3 L624.4,316.9M625.1,320.6 L622.8,323.9M625.1,320.6 L623.9,319.3M630.5,319.6 C631,319.2 632.6,317 633.8,317.4 C635,317.8 637.1,321.1 637.7,321.8M634.5,317.7 L636.5,320.5M634.5,317.7 L635.5,316.3M636.2,321.3 L637.6,322.9M636.2,321.3 L637,319.7M636.3,318.4 L638.8,321.4M636.3,318.4 L637.5,317.1M637.6,318.8 L640.2,320.8M637.6,318.8 L638.2,316.7" fill="none" stroke="#303030" stroke-width="1.15" stroke-linecap="round" stroke-linejoin="round"/>
<path d="M629,330 C627.5,330.7 622.3,332.3 620,334 C617.7,335.7 615.8,339 615,340M629,336 C630.8,336.3 637.2,336.5 640,338 C642.8,339.5 645,343.8 646,345M629,346 L622,350" fill="none" stroke="#333" stroke-width="1.0" stroke-linecap="round" stroke-linejoin="round"/>
<path d="M626.5,262 L629,365" fill="none" stroke="#333" stroke-width="1.6" stroke-linecap="round" stroke-linejoin="round"/>
<path d="M771,288 C770.8,291.5 770,302 769.5,309 C769,316 768.2,326.5 768,330M770.9,290 C770.6,289.7 770,287.9 769.5,288.3 C769.1,288.6 768.4,291.5 768.2,292.1M770,289.7 L769,292.2M770.9,290 C771,289.8 771.6,288.7 772,289 C772.3,289.3 772.9,291.5 773.1,292M771.5,289.7 L772.4,292.2M770.6,293.3 C770.3,293 769.4,291.2 768.7,291.4 C768.1,291.6 767.1,294.1 766.8,294.6M769.5,293 L768,295.5M770.6,293.3 C770.9,293.1 771.9,291.9 772.6,292.2 C773.2,292.6 774.2,295 774.5,295.5M771.8,293 L773.4,295.5M770.4,296.8 C770.1,296.7 769.4,295.5 768.9,295.8 C768.3,296.2 767.6,298.6 767.3,299.2M769.5,296.5 L768.2,299M770.4,296.8 C770.7,296.8 771.6,296.2 772.3,296.4 C772.9,296.6 773.9,297.8 774.2,298.1M771.5,296.5 L773,299M770,301.7 C769.7,301.6 768.8,300.7 768.2,301 C767.5,301.4 766.6,303.3 766.3,303.8M768.9,301.4 L767.4,303.9M770,301.7 C770.4,301.4 771.4,299.7 772,299.8 C772.7,300 773.7,302.2 774,302.7M771.2,301.4 L772.8,303.9M769.8,305.3 C769.3,305 767.8,303.1 766.9,303.7 C765.9,304.2 764.4,307.7 763.9,308.5M768,305 L765.7,307.5M769.8,305.3 C770.3,305 771.8,303.1 772.8,303.4 C773.8,303.7 775.3,306.7 775.7,307.3M771.6,305 L774,307.5M769.5,309.5 C769.1,309.5 767.8,309.2 767,309.4 C766.2,309.5 765,310.3 764.6,310.5M768,309.2 L766,311.7M769.5,309.5 C769.9,309.2 771.2,307.4 772.1,307.8 C773,308.2 774.3,311.2 774.8,311.8M771,309.2 L773.2,311.7M769.1,314.7 C768.7,314.4 767.4,312.5 766.6,312.9 C765.8,313.2 764.6,316.1 764.1,316.8M767.6,314.4 L765.6,316.9M769.1,314.7 C769.5,314.4 770.7,312.5 771.6,312.9 C772.4,313.2 773.6,316.1 774.1,316.7M770.6,314.4 L772.6,316.9M768.7,319.9 C768.2,319.8 766.5,318.9 765.4,319.2 C764.2,319.5 762.6,321.1 762,321.5M766.7,319.6 L764,322.1M768.7,319.9 C769.3,319.7 771.1,317.8 772.4,318.3 C773.6,318.8 775.4,322.2 776,323M770.9,319.6 L773.8,322.1" fill="none" stroke="#333" stroke-width="1.0" stroke-linecap="round" stroke-linejoin="round"/>
<path d="M746,300 C746.2,303.8 746.7,315 747,322.5 C747.3,330 747.8,341.2 748,345M746.1,302 C745.8,301.8 744.9,300.8 744.3,301 C743.7,301.3 742.9,303.1 742.6,303.5M745,301.7 L743.6,304.2M746.1,302 C746.3,302 747.1,301.9 747.6,302 C748.1,302.1 748.8,302.6 749.1,302.8M747,301.7 L748.2,304.2M746.2,305.5 C746,305.3 745.3,304 744.9,304.1 C744.4,304.2 743.7,305.8 743.5,306.1M745.4,305.2 L744.3,307.7M746.2,305.5 C746.5,305.3 747.1,304 747.5,304.1 C748,304.2 748.6,305.8 748.8,306.2M747,305.2 L748,307.7M746.4,309.9 C746.2,309.6 745.5,308.1 745,308.3 C744.5,308.6 743.7,310.8 743.5,311.3M745.6,309.6 L744.4,312.1M746.4,309.9 C746.7,309.8 747.6,309 748.2,309.4 C748.8,309.8 749.6,311.7 749.9,312.1M747.5,309.6 L748.9,312.1M746.6,314 C746.3,313.9 745.1,313.3 744.4,313.5 C743.7,313.8 742.5,315.2 742.2,315.5M745.3,313.7 L743.5,316.2M746.6,314 C747,313.8 748.1,312.1 748.8,312.6 C749.5,313.1 750.6,316.1 750.9,316.8M747.9,313.7 L749.6,316.2M746.8,319 C746.2,318.8 744.2,317 742.9,317.5 C741.6,318 739.7,321.3 739,322.1M744.5,318.7 L741.4,321.2M746.8,319 C747.4,319 749.2,318.2 750.4,318.6 C751.6,319 753.4,321 754,321.5M749,318.7 L751.9,321.2M747,322.5 C746.5,322.4 745.2,321.7 744.2,321.9 C743.3,322.1 741.9,323.2 741.5,323.4M745.3,322.2 L743.1,324.7M747,322.5 C747.5,322.3 749.2,321.2 750.3,321.4 C751.4,321.7 753,323.6 753.6,324.1M749,322.2 L751.6,324.7M747.2,326.7 C746.6,326.7 745,325.9 743.9,326.5 C742.8,327.1 741.1,329.6 740.5,330.2M745.2,326.4 L742.5,328.9M747.2,326.7 C747.9,326.5 749.9,324.9 751.3,325.2 C752.7,325.5 754.8,328.1 755.5,328.7M749.7,326.4 L753,328.9M747.4,330.7 C746.8,330.5 745.2,329 744.1,329.2 C743,329.5 741.3,331.8 740.8,332.3M745.4,330.4 L742.8,332.9M747.4,330.7 C747.8,330.5 749.2,329.1 750.1,329.5 C751,330 752.4,332.8 752.8,333.5M749,330.4 L751.2,332.9M747.6,334.9 C747,334.6 745.2,332.7 744,333 C742.8,333.3 741,336.3 740.4,336.9M745.4,334.6 L742.5,337.1M747.6,334.9 C748.2,334.8 750,334.1 751.2,334.4 C752.4,334.7 754.2,336.3 754.8,336.7M749.7,334.6 L752.6,337.1M747.7,338.2 C747,337.9 745.1,335.8 743.8,336.2 C742.5,336.7 740.5,340.2 739.9,341M745.4,337.9 L742.2,340.4M747.7,338.2 C748.2,337.9 749.9,336.1 751,336.4 C752.1,336.7 753.7,339.3 754.3,339.9M749.7,337.9 L752.3,340.4" fill="none" stroke="#333" stroke-width="1.0" stroke-linecap="round" stroke-linejoin="round"/>
<path d="M655.2,356.6 C655.4,353.1 656.4,342.4 656.2,335.3 C656.1,328.2 654.3,321.8 654.1,314 C653.9,306.1 655,292.6 655.2,288.4M657.3,320.4 C658.2,318.9 662,316.5 662.6,311.8 C663.3,307.2 661.3,299 661.1,292.6 C661,286.2 661.5,276.7 661.6,273.5M654.7,314 C653.9,312.2 650.8,306.9 649.8,303.3 C648.9,299.8 649.3,294.4 649.2,292.6M662.6,311.8 C663.5,310.8 666,307.2 668,305.4 C669.9,303.7 673.3,301.9 674.4,301.2M656.2,335.3 C655.2,333.2 651.8,326 649.8,322.5 C647.9,318.9 645.4,315.4 644.5,314M684,375.8 C683.8,371.9 684.5,358.4 682.9,352.3 C681.3,346.3 677.2,344.2 674.4,339.6 C671.5,334.9 668.1,328.9 665.8,324.6 C663.5,320.4 661.4,315.7 660.5,314M682.9,352.3 C684,349.5 687.8,341 689.3,335.3 C690.8,329.6 692.4,322.9 691.8,318.2 C691.3,313.6 687.7,310.1 686.1,307.6 C684.5,305.1 683.1,304 682.5,303.3M691.8,318.2 L693.1,305.4M686.1,307.6 C686.3,304.4 686.8,294.4 687.6,288.4 C688.4,282.3 690.4,274.2 691,271.3M674.4,339.6 C674,338.1 673.3,331.7 672.2,331 C671.2,330.3 668.7,334.6 668,335.3M689.3,335.3 C690.7,333.9 695.4,330.3 697.8,326.8 C700.3,323.2 703,316.1 704,314M695.7,320.4 C696.4,317.9 698.8,310.1 700,305.4 C701.2,300.8 702.5,296.9 703.2,292.6 C703.9,288.4 703.2,284.5 704.3,279.9 C705.3,275.2 708.7,267.4 709.6,264.9M703.2,292.6 C702.3,291.2 698.9,287 697.9,284.1 C696.8,281.3 697,277 696.8,275.6M717.1,320.4 C717.6,317.5 719.9,308.6 720.3,303.3 C720.6,298 719,293.7 719.2,288.4 C719.4,283 721,274.2 721.3,271.3M720.3,303.3 C721.1,301.5 724.5,295.5 725.6,292.6 C726.7,289.8 726.5,287.3 726.7,286.2M754.4,377.9 C753.8,373.3 752.6,357.3 751.2,350.2 C749.8,343.1 747.6,340.3 745.8,335.3 C744.1,330.3 742.5,325.7 740.5,320.4 C738.6,315 735.5,308.6 734.1,303.3 C732.7,298 732.3,290.9 732,288.4M740.5,320.4 C740.3,316.8 739.3,305.1 739.4,299 C739.6,293 741.4,288.7 741.6,284.1 C741.8,279.5 740.7,273.5 740.5,271.3M745.8,335.3 C747.4,333.5 752.4,328.9 755.4,324.6 C758.5,320.4 761.5,315 764,309.7 C766.5,304.4 769.3,295.5 770.4,292.6M751.2,350.2 C752.9,347.7 757.9,340.3 761.8,335.3 C765.7,330.3 772.5,322.9 774.6,320.4M734.1,303.3 C735.5,301.9 739.4,298.3 742.6,294.8 C745.8,291.2 751.5,284.1 753.3,282M745.8,335.3 C743.5,334.2 735.7,331.4 732,328.9 C728.3,326.4 724.9,321.8 723.5,320.4" fill="none" stroke="#3a3a3a" stroke-width="1.3" stroke-linecap="round" stroke-linejoin="round"/>
<path d="M656.2,335.3 L654.2,331.2M654.1,314 L654.9,310.5M655.2,288.4 L653.5,284M662.6,311.8 L664.5,308.3M661.1,292.6 L661.2,289.9M661.6,273.5 L658.6,270.3M649.8,303.3 L650.4,301.1M649.2,292.6 L651,289.9M668,305.4 L666.4,303.3M674.4,301.2 L677.3,297M649.8,322.5 L652.1,318.6M644.5,314 L641.7,311M682.9,352.3 L682.9,350M674.4,339.6 L677.1,336.4M665.8,324.6 L663.8,320.2M660.5,314 L658.3,309.2M689.3,335.3 L689,331.6M691.8,318.2 L690.9,314.8M686.1,307.6 L684.2,305.5M682.5,303.3 L684.7,300.6M693.1,305.4 L694.8,302.8M687.6,288.4 L690.4,283.7M691,271.3 L692.5,267M672.2,331 L672.7,326.8M668,335.3 L665.7,331.9M697.8,326.8 L699.8,324.2M704,314 L706.5,309.3M700,305.4 L699.5,302.3M703.2,292.6 L702.9,289.5M704.3,279.9 L707.2,276.7M709.6,264.9 L706.8,262.6M697.9,284.1 L699.2,279.1M696.8,275.6 L696.8,272.1M720.3,303.3 L720.6,299.1M719.2,288.4 L717.5,284.6M721.3,271.3 L721.7,267.5M725.6,292.6 L723.7,290.1M726.7,286.2 L725.7,281.5M751.2,350.2 L750.3,346.4M745.8,335.3 L744.7,333M740.5,320.4 L737.9,315.9M734.1,303.3 L735.8,300.2M732,288.4 L733.1,284.4M739.4,299 L741.8,294.2M741.6,284.1 L741,279.1M740.5,271.3 L743.3,267.6M755.4,324.6 L757.7,321.2M764,309.7 L763.2,307M770.4,292.6 L772.6,290.2M761.8,335.3 L759.2,330.9M774.6,320.4 L776.3,316.9M742.6,294.8 L744.7,292.6M753.3,282 L751.9,279.1M732,328.9 L731.5,326.4M723.5,320.4 L720.9,317.3" fill="none" stroke="#3a3a3a" stroke-width="1.0" stroke-linecap="round" stroke-linejoin="round"/>
<path d="M697,332 C696.2,334 694.2,340.7 692,344 C689.8,347.3 685.3,350.7 684,352M721,322 C722,324.3 724.8,332.3 727,336 C729.2,339.7 732.8,342.7 734,344M744,336 L750,340M722,334 L718,340" fill="none" stroke="#333" stroke-width="1.3" stroke-linecap="round" stroke-linejoin="round"/>
</g><defs><clipPath id="c6"><rect x="337" y="497.5" width="141" height="124"/></clipPath></defs>
<g clip-path="url(#c6)">
<rect x="337" y="497.5" width="141" height="124" fill="#f6f6f6"/>
<path d="M337,563.3 L477.7,567.4 L477.7,622.4 L337,622.4Z" fill="#ececec" opacity="0.3"/>
<path d="M432.5,565.7 C433.2,565.2 435.5,562.9 437,562.5 C438.4,562.1 439.7,563.6 441,563.3 C442.4,563 443.6,561.7 445.1,560.8 C446.6,560 448.7,558.4 450.2,558.4 C451.7,558.4 453.1,560.8 454.3,560.8 C455.5,560.9 456,559 457.3,558.8 C458.7,558.6 460.8,560.3 462.4,559.6 C464.1,558.9 466.1,554.1 467.1,554.7 C468.2,555.3 468.2,561.1 468.8,563.3 C469.3,565.5 470.1,567 470.4,567.8Z" fill="#b2b2b2" opacity="0.85"/>
<path d="M402.3,564.3 L477.7,568.4M406.4,569.8 L477.7,572.7M420.6,577.6 L477.7,580M337,563.7 L347.2,564.1M396.2,573.5 L428.8,574.7" fill="none" stroke="#999" stroke-width="0.6" stroke-linecap="round" stroke-linejoin="round"/>
<path d="M371.7,517.4 L402.3,518M372.7,527.6 L394.1,528.6M377.8,533.7 L392.1,534.3M337,533.7 L347.2,534.7M337,536.8 L345.2,537.6" fill="none" stroke="#9a9a9a" stroke-width="0.6" stroke-linecap="round" stroke-linejoin="round"/>
<path d="M354.4,561.3 C354.6,559.8 360.4,561.7 361.5,563.3 C362.6,564.9 365.4,575.2 365.6,577.6 C365.8,579.9 364.9,585.7 363.5,586.7 C362.2,587.8 353.9,587.7 352.3,588.2 C350.7,588.6 348.2,591 347.6,591 C347.1,591 346.3,588.9 347.2,588.2 C348.2,587.5 356.2,585.2 357.4,584.1 C358.7,583 359.8,579.8 359.5,577.6 C359.2,575.3 354.2,562.7 354.4,561.3Z" fill="#666" stroke="#3a3a3a" stroke-width="0.8" stroke-linecap="round" stroke-linejoin="round"/>
<path d="M405.4,518 C404,518 401.7,528.2 400.7,530.7 C399.6,533.1 396.6,541.8 394.5,542.5 C392.5,543.2 382.8,538.6 379.9,537.8 C377,537 368.2,535 365.6,534.7 C362.9,534.4 355.4,534.1 353.4,534.7 C351.3,535.4 346.7,539.3 345.2,540.9 C343.7,542.5 338.4,549.1 338.1,550.6 C337.7,552.2 340.6,555.7 341.5,556.4 C342.4,557 345.8,556.5 347.2,557.2 C348.6,557.9 353.4,562.5 355.4,563.3 C357.4,564.1 365.6,564.9 367.6,565.3 C369.7,565.8 373.9,567.7 375.8,567.8 C377.6,567.8 383.9,566.2 386,565.7 C388,565.3 394.5,564.1 396.2,563.3 C397.8,562.4 401.4,559 402.7,557.2 C404,555.3 407.7,547.5 408.8,544.9 C410,542.3 414.5,533.8 414.1,531.1 C413.8,528.4 406.7,518.1 405.4,518Z" fill="#cdcdcd" stroke="#3a3a3a" stroke-width="0.9" stroke-linecap="round" stroke-linejoin="round"/>
<path d="M356.2,545.1L361.2,557.1M401.7,541.7L402.7,550.2M395.7,547.4L399,554M403.9,541.5L404.1,547.9M376.6,537.2L381.9,549M401.3,546.6L402.7,549.3M360.4,556.3L359.5,563.7M353.1,538.3L354.3,546.8M406.3,536.8L407.7,541.5M387,547.7L389.7,560.6M370.9,553.9L376,562.5M369.6,546.9L378.7,556.4M385.8,541.2L386.6,551.7M391.8,554.7L397.1,560.2M357.2,540.7L358.8,550.8M366.1,547.7L371,557.3M381.4,554.6L385.5,562.9M352.3,539.7L352.7,547.7M401.5,539.8L400.5,548.5M363.7,550.4L362,561.8M399.5,550L398.8,560.4M364.4,538.8L368.2,549.2M408.1,525.8L412.7,530.5M360,535L364,541.6M388.5,544.1L394.1,559.5M378.7,558.7L382.1,563.6M385.9,560.9L388.5,563.8M358.5,544.3L362.4,555.3M344.6,543L349.1,552.1M364.8,550.2L366.6,560.7M347.5,545.7L347.9,556.5M366.5,548.1L366.1,558.9M399,549L400.4,553.1M375.8,553L380.5,566.1" fill="none" stroke="#666" stroke-width="0.6" stroke-linecap="round" stroke-linejoin="round" opacity="0.8"/>
<path d="M396.2,543.9 C398.7,540.9 402.9,534.4 405.4,532.7 C407.8,531 410.9,531.3 410.9,533.7 C410.9,536.1 407.1,543.1 405.4,547 C403.6,550.9 402.5,554.8 400.3,557.2 C398,559.6 393.8,562.3 392.1,561.3 C390.4,560.2 389.4,553.9 390.1,551.1 C390.7,548.2 393.6,547 396.2,543.9Z" fill="#dcdcdc" opacity="0.75"/>
<path d="M345.2,540.9 C348.1,539.1 352,538.8 355.4,539.8 C358.8,540.9 363,544.1 365.6,547 C368.1,549.9 369.5,553.9 370.7,557.2 C371.9,560.4 373.6,564.6 372.7,566.4 C371.9,568.1 367.8,568.3 365.6,567.8 C363.4,567.3 362.2,565.1 359.5,563.3 C356.8,561.5 352.3,558.3 349.3,557.2 C346.2,556 343,557.4 341.1,556.4 C339.2,555.3 337.4,553.2 338.1,550.6 C338.7,548.1 342.3,542.7 345.2,540.9Z" fill="#777" opacity="0.45"/>
<path d="M341.5,554.1 C341.9,553.3 347.4,553.8 348.9,555.5 C350.3,557.3 354.6,568.8 356.2,571.9 C357.8,574.9 362.9,583.2 364.8,585.7 C366.7,588.3 374.5,595.8 375.4,597.1 C376.2,598.4 374.7,599.7 373.3,598.8 C371.9,597.9 363.6,590.5 361.5,588.2 C359.4,585.8 354.2,578 352.5,575.5 C350.9,573 345.9,565.4 344.8,563.3 C343.7,561.2 341.1,554.9 341.5,554.1Z" fill="#5a5a5a" stroke="#2a2a2a" stroke-width="0.8" stroke-linecap="round" stroke-linejoin="round"/>
<path d="M381.5,551.1 C382.6,550 386.3,555.6 386.4,557.2 C386.5,558.7 383.2,564.4 382.3,566.4 C381.5,568.3 377.2,575.8 377.8,577.2 C378.4,578.5 386.5,579 388.4,580 C390.3,581 395.9,586.4 396.6,587.4 C397.3,588.3 396.4,590.1 395.4,589.8 C394.3,589.5 388.1,585.1 386,584.1 C383.8,583.1 374.8,581.7 373.7,580 C372.7,578.3 375,570.3 375.8,567.4 C376.6,564.5 380.4,552.1 381.5,551.1Z" fill="#777" stroke="#3a3a3a" stroke-width="0.8" stroke-linecap="round" stroke-linejoin="round"/>
<path d="M396.2,561.7 C395,561.7 389.4,562.5 388.4,563.7 C387.5,564.9 386.7,571.7 386.8,573.5 C386.9,575.2 389.1,580.6 389.6,581.2 C390.2,581.8 392,580.4 392.1,579.6 C392.2,578.8 390.4,574.4 390.5,573.1 C390.5,571.8 391.5,567.3 392.5,566.4 C393.5,565.4 400.3,563.8 400.7,563.3 C401,562.8 397.4,561.6 396.2,561.7Z" fill="#8a8a8a" stroke="#3a3a3a" stroke-width="0.8" stroke-linecap="round" stroke-linejoin="round"/>
<path d="M405.4,517.4 C405.5,516.4 408.4,515.9 409.4,516 C410.4,516 414.2,517.3 415.5,518 C416.9,518.8 421.3,522.5 422.7,523.5 C424,524.5 428.6,527.5 429.2,528.2 C429.8,528.9 429,530.2 428.4,530.7 C427.8,531.2 424.5,533.1 423.1,533.1 C421.7,533.2 415.6,531.7 414.1,531.1 C412.7,530.4 409.3,528 408.4,526.6 C407.5,525.2 405.2,518.5 405.4,517.4Z" fill="#a8a8a8" stroke="#3a3a3a" stroke-width="0.9" stroke-linecap="round" stroke-linejoin="round"/>
<path d="M402.3,505.2 C402.6,504.6 404.2,506.8 405.4,508.6 C406.5,510.4 409.2,514.6 409.2,516 C409.3,517.4 406.5,517.9 405.6,517.2 C404.6,516.5 404.1,513.9 403.5,511.9 C403,509.9 402,505.7 402.3,505.2Z" fill="#8a8a8a" stroke="#3a3a3a" stroke-width="0.9" stroke-linecap="round" stroke-linejoin="round"/>
<path d="M411.5,506.2 C412.4,506.2 414.2,508.8 414.9,510.7 C415.6,512.6 416.5,516.7 415.8,517.6 C415,518.6 411.5,517.5 410.4,516.4 C409.4,515.2 409.5,512.4 409.6,510.7 C409.8,509 410.6,506.2 411.5,506.2Z" fill="#777" stroke="#3a3a3a" stroke-width="0.9" stroke-linecap="round" stroke-linejoin="round"/>
<path d="M416.2,520.5 C416.5,520.1 418.5,519.8 419,520.1 C419.6,520.3 419.8,521.7 419.4,522.1 C419.1,522.5 417.5,522.8 417,522.5 C416.4,522.2 415.8,520.9 416.2,520.5Z" fill="#1e1e1e"/>
<path d="M426.8,527.8 C426.9,527.5 428.9,527.8 429.2,528.2 C429.5,528.6 428.8,530.3 428.4,530.3 C428,530.2 426.6,528.2 426.8,527.8Z" fill="#222"/>
<path d="M423.1,531.9 L427.2,530.7" fill="none" stroke="#222" stroke-width="0.8" stroke-linecap="round" stroke-linejoin="round"/>
<path d="M403.2,538L400,543.3M402.1,533.5L399.5,542.9M405.6,521.8L401.5,529.8M402,536.3L400,542.1M406.9,526.1L403.4,534.7M405.9,531L401.6,542M399.6,533.6L397.4,541.7M401.8,538.9L400.2,544.2M408.2,532.4L406.7,536M402.8,540.3L400.9,544.4M403.3,539.2L401.9,543.6M401.3,537.7L399.6,541.4M403.8,538.5L401.7,543.5M405.2,536.6L403,542.4M403.6,533.7L402.3,538.4M398,536.1L395.6,541.4" fill="none" stroke="#333" stroke-width="0.7" stroke-linecap="round" stroke-linejoin="round" opacity="0.8"/>
<path d="M410.4,607.1 L410.4,572.5M410.4,577 L407.6,572.9M410.4,577 L413.3,574.3M408.8,575.3 L407.9,577M412.1,575.3 L413,577M410.4,582.9 L407.5,580M410.4,582.9 L413.4,578.8M408.7,581.2 L407.8,582.9M412.2,581.2 L413.1,582.9M410.4,587.8 L405.8,584.6M410.4,587.8 L415.1,584.6M407.6,586.2 L406.2,587.8M413.3,586.2 L414.7,587.8M410.4,593.3 L406.5,589.5M410.4,593.3 L414.4,590.7M408.1,591.7 L406.9,593.3M412.8,591.7 L414,593.3M410.4,598.2 L406.7,595.4M410.4,598.2 L414.2,595.1M408.2,596.6 L407.1,598.2M412.7,596.6 L413.8,598.2M410.4,604.6 L405,601.9M410.4,604.6 L415.9,601.7M407.2,602.9 L405.6,604.6M413.7,602.9 L415.3,604.6M409.4,574.1 L410.4,571.7 L411.5,574.1M419.6,607.7 L419.6,571M419.6,575.5 L416.9,572.1M419.6,575.5 L422.4,572.5M418,573.9 L417.2,575.5M421.3,573.9 L422.1,575.5M419.6,581.4 L415.8,577.8M419.6,581.4 L423.5,578.1M417.3,579.7 L416.2,581.4M421.9,579.7 L423.1,581.4M419.6,587.2 L413.7,583.8M419.6,587.2 L425.6,584.5M416.1,585.5 L414.3,587.2M423.2,585.5 L425,587.2M419.6,591.8 L413,588.5M419.6,591.8 L426.2,589M415.7,590.2 L413.7,591.8M423.6,590.2 L425.6,591.8M419.6,598.2 L413.5,594.6M419.6,598.2 L425.7,594.3M416,596.6 L414.1,598.2M423.3,596.6 L425.1,598.2M419.6,603.3 L413.8,599.4M419.6,603.3 L425.4,600.6M416.2,601.6 L414.4,603.3M423.1,601.6 L424.8,603.3M418.6,572.7 L419.6,570.2 L420.6,572.7M433.9,615.9 L433.9,577.6M433.9,582.1 L431.1,578.5M433.9,582.1 L436.7,578.5M432.2,580.4 L431.4,582.1M435.6,580.4 L436.4,582.1M433.9,588.5 L428.8,585.2M433.9,588.5 L439,585.7M430.8,586.8 L429.3,588.5M437,586.8 L438.5,588.5M433.9,593.3 L429.1,590M433.9,593.3 L438.7,590.7M431,591.6 L429.6,593.3M436.8,591.6 L438.2,593.3M433.9,599.6 L428.6,596M433.9,599.6 L439.2,596.8M430.7,598 L429.1,599.6M437.1,598 L438.7,599.6M433.9,604.6 L429.8,601.6M433.9,604.6 L438,601.7M431.5,602.9 L430.2,604.6M436.3,602.9 L437.6,604.6M433.9,609.9 L428.1,606.1M433.9,609.9 L439.7,606M430.4,608.3 L428.7,609.9M437.4,608.3 L439.1,609.9M433.9,614.8 L427.7,612.1M433.9,614.8 L440.1,611.2M430.2,613.1 L428.3,614.8M437.6,613.1 L439.5,614.8M432.9,579.2 L433.9,576.8 L434.9,579.2M455.3,620.8 L455.3,582.7M455.3,587.2 L452.4,583.5M455.3,587.2 L458.2,584.2M453.6,585.5 L452.7,587.2M457,585.5 L457.9,587.2M455.3,591.7 L450.8,588.7M455.3,591.7 L459.8,588.9M452.6,590 L451.3,591.7M458,590 L459.4,591.7M455.3,597 L451.6,593.9M455.3,597 L459,593.9M453.1,595.4 L452,597M457.5,595.4 L458.6,597M455.3,602.4 L450.2,599.5M455.3,602.4 L460.4,599.8M452.3,600.7 L450.7,602.4M458.4,600.7 L459.9,602.4M455.3,607 L451.3,603.7M455.3,607 L459.3,604M452.9,605.4 L451.7,607M457.7,605.4 L458.9,607M455.3,613.2 L449.5,609.6M455.3,613.2 L461.1,609.1M451.8,611.5 L450.1,613.2M458.8,611.5 L460.5,613.2M455.3,617.8 L450.9,615.1M455.3,617.8 L459.7,614.7M452.7,616.2 L451.3,617.8M458,616.2 L459.3,617.8M454.3,584.3 L455.3,581.8 L456.3,584.3M392.1,614.7 L392.1,593.9M392.1,598.4 L389.7,595.3M392.1,598.4 L394.5,594.3M390.6,596.7 L389.9,598.4M393.6,596.7 L394.3,598.4M392.1,602.9 L389.1,600.1M392.1,602.9 L395.1,599M390.3,601.2 L389.4,602.9M393.9,601.2 L394.8,602.9M392.1,607.4 L388.3,603.7M392.1,607.4 L395.9,603.3M389.8,605.8 L388.7,607.4M394.4,605.8 L395.5,607.4M392.1,613.1 L389.3,609.1M392.1,613.1 L394.9,609.9M390.4,611.4 L389.6,613.1M393.8,611.4 L394.6,613.1M391.1,595.5 L392.1,593.1 L393.1,595.5M427.8,614.7 L427.8,602M427.8,606.5 L425.6,603.3M427.8,606.5 L430,603.3M426.5,604.9 L425.8,606.5M429.1,604.9 L429.8,606.5M427.8,611.3 L425.7,607.9M427.8,611.3 L429.9,608.1M426.5,609.7 L425.9,611.3M429.1,609.7 L429.7,611.3M426.8,603.7 L427.8,601.2 L428.8,603.7M448.2,616.7 L448.2,599M448.2,603.5 L446.1,599.8M448.2,603.5 L450.3,599.8M446.9,601.8 L446.3,603.5M449.4,601.8 L450.1,603.5M448.2,608.9 L445.6,605.9M448.2,608.9 L450.8,606.1M446.6,607.3 L445.8,608.9M449.7,607.3 L450.5,608.9M448.2,613.8 L445,611.2M448.2,613.8 L451.3,610.2M446.3,612.2 L445.3,613.8M450.1,612.2 L451,613.8M447.2,600.6 L448.2,598.2 L449.2,600.6M469.6,616.7 L469.6,603.7M469.6,608.2 L467.2,605.7M469.6,608.2 L472,605.1M468.1,606.5 L467.4,608.2M471,606.5 L471.8,608.2M469.6,613.5 L467.3,609.5M469.6,613.5 L471.9,609.8M468.2,611.9 L467.5,613.5M471,611.9 L471.7,613.5M468.6,605.3 L469.6,602.9 L470.6,605.3M441,610.2 L441,591.8M441,596.3 L439.1,593.6M441,596.3 L443,593.5M439.8,594.7 L439.3,596.3M442.2,594.7 L442.8,596.3M441,601.9 L438.5,598.4M441,601.9 L443.6,599.4M439.5,600.3 L438.7,601.9M442.6,600.3 L443.3,601.9M441,607.6 L437.7,604M441,607.6 L444.4,603.7M439,606 L438,607.6M443.1,606 L444.1,607.6M440,593.5 L441,591 L442.1,593.5" fill="none" stroke="#303030" stroke-width="1.0" stroke-linecap="round" stroke-linejoin="round" opacity="0.9"/>
<path d="M352,598.3 L352.1,591.9M361,603.6 L361.7,599M376.9,603.7 L377.5,600.1M390.7,597.5 L390.4,591.2M390.7,598.5 L390.3,593.5M390.5,601.5 L391.4,596.1M389.1,600.9 L388.8,596.7M368.5,600.2 L369.2,596.7M342.3,601.9 L341.9,597.7M345.3,602.7 L344.9,599M388.1,600 L387.6,594M363.7,598.9 L364.6,593.2M384.5,598 L385.2,593.1M389.7,598.9 L390.2,593.2M362.2,601.3 L362.8,594.8M395.3,602.3 L394.6,597.4M380.7,596.6 L380.6,590.6M394.4,603.5 L393.5,598.5M391.9,601.2 L391.5,598.6M395.3,602.9 L395.6,599M389.6,602.6 L390,597.7M357.9,598.3 L357.6,594.6M370.4,596.8 L370.9,593M348,598 L347.8,593.8M386.7,596.7 L386.1,593.1M349,602 L348.3,599.4M372.6,601.9 L373.3,597.2M358.4,603.1 L358.9,598.7M373.1,603.6 L374.1,597.3M346.3,598.6 L346.1,595.4M385.5,596.4 L386.2,591.6M376.2,599.3 L377.1,594.5M393.8,603.4 L394.2,597M368.5,598.9 L369.2,594.3M357.3,601.5 L357.2,598.5M390.2,600 L391.1,595.4M396.3,598.3 L395.7,593.7M385.7,602.6 L386,599.7M362.6,596.2 L362.3,589.9M359.6,601.6 L359.9,598.6M380.9,596.6 L380.2,591.8M346,603.8 L345.8,598.8M398.1,596.8 L399.1,594.2M375.5,601.3 L376.4,597.4M396.9,601.2 L396.9,598.1M418.5,613.2 L418.2,610.2M462.9,613.3 L463.1,611.1M411.2,616 L412,613.2M402.8,612.1 L402.5,609.2M443.8,612.7 L444.1,608.7M460.9,616.2 L461.1,613.6M465.5,612.6 L466.2,609.4M449,614.3 L449.3,611.4M445.1,616.2 L444.8,612.7M435.6,614 L435.4,610.6M455.2,611.6 L454.5,607.6M407.1,616.7 L407.6,614.1M449.5,612.3 L450.3,609.7M409.2,610.5 L409.7,607.9M424.6,618.2 L425.1,614.3M444.9,615.4 L443.9,611.4M425.8,617.2 L425.6,612.9M400.3,618.2 L399.5,614.9M437.6,618.2 L438,613.8M470.4,613.7 L469.7,611.3" fill="none" stroke="#555" stroke-width="0.6" stroke-linecap="round" stroke-linejoin="round" opacity="0.85"/>
<path d="M351.3,593.9 L371.7,594.3M351.3,593.9 L351.3,598M371.7,594.3 L372.1,598.4M337,602 L396.2,601.2M375.8,591.8 L400.3,592.7M341.1,573.1 L341.1,580M339.5,575.9 L342.7,575.9M339.1,585.7 L339.1,591.8" fill="none" stroke="#666" stroke-width="0.6" stroke-linecap="round" stroke-linejoin="round"/>
<path d="M337,612.2 C346.9,612.4 372.7,612.2 396.2,613.3 C419.6,614.3 464.1,617.5 477.7,618.3M337,616.3 C343.5,616.4 362.5,616.7 375.8,617.1 C389,617.5 409.8,618.5 416.6,618.8M337,607.7 C341.8,607.9 357.1,608.6 365.6,608.6 C374.1,608.6 384.3,607.9 388,607.7M396.2,610.2 C403,611 423.4,613.5 437,615.3 C450.6,617.1 470.9,619.9 477.7,620.8" fill="none" stroke="#777" stroke-width="0.7" stroke-linecap="round" stroke-linejoin="round"/>
</g></g>
<path d="M305.80,53.50 L218.00,53.50" fill="none" stroke="#b7dee8" stroke-width="4.2" stroke-linejoin="round" stroke-linecap="butt"/><polygon points="198.60,53.50 219.20,43.10 219.20,63.90" fill="#b7dee8"/>
<path d="M303.00,292.00 L261.00,292.00 L261.00,126.20 L218.00,126.20" fill="none" stroke="#b7dee8" stroke-width="4.2" stroke-linejoin="round" stroke-linecap="butt"/><polygon points="198.30,126.20 218.90,115.80 218.90,136.60" fill="#b7dee8"/>
<path d="M85.00,250.00 L85.00,155.00" fill="none" stroke="#b7dee8" stroke-width="4.2" stroke-linejoin="round" stroke-linecap="butt"/><polygon points="85.00,136.00 95.40,156.60 74.60,156.60" fill="#b7dee8"/>
<path d="M413.00,251.50 L413.00,155.00" fill="none" stroke="#b7dee8" stroke-width="4.2" stroke-linejoin="round" stroke-linecap="butt"/><polygon points="413.00,136.00 423.40,156.60 402.60,156.60" fill="#b7dee8"/>
<path d="M305.00,334.50 L218.00,334.50" fill="none" stroke="#b7dee8" stroke-width="4.2" stroke-linejoin="round" stroke-linecap="butt"/><polygon points="199.00,334.50 219.60,324.10 219.60,344.90" fill="#b7dee8"/>
<path d="M605.50,334.50 L517.00,334.50" fill="none" stroke="#b7dee8" stroke-width="4.2" stroke-linejoin="round" stroke-linecap="butt"/><polygon points="498.00,334.50 518.60,324.10 518.60,344.90" fill="#b7dee8"/>
<path d="M196.50,70.60 L285.50,70.60" fill="none" stroke="#4a7ebb" stroke-width="4.2" stroke-linejoin="round" stroke-linecap="butt"/><polygon points="304.80,70.70 284.15,80.99 284.25,60.19" fill="#4a7ebb"/>
<path d="M198.00,109.50 L274.00,109.50 L274.00,270.50 L286.00,270.50" fill="none" stroke="#4a7ebb" stroke-width="4.2" stroke-linejoin="round" stroke-linecap="butt"/><polygon points="304.50,270.50 283.90,280.90 283.90,260.10" fill="#4a7ebb"/>
<path d="M100.75,135.00 L100.75,230.50" fill="none" stroke="#4a7ebb" stroke-width="4.2" stroke-linejoin="round" stroke-linecap="butt"/><polygon points="100.75,250.00 90.35,229.40 111.15,229.40" fill="#4a7ebb"/>
<path d="M400.00,135.00 L400.00,232.00" fill="none" stroke="#4a7ebb" stroke-width="4.2" stroke-linejoin="round" stroke-linecap="butt"/><polygon points="400.00,251.00 389.60,230.40 410.40,230.40" fill="#4a7ebb"/>
<path d="M198.00,314.50 L285.50,316.00" fill="none" stroke="#4a7ebb" stroke-width="4.2" stroke-linejoin="round" stroke-linecap="butt"/><polygon points="304.50,316.20 283.79,326.38 284.01,305.58" fill="#4a7ebb"/>
<path d="M497.00,316.00 L585.50,316.00" fill="none" stroke="#4a7ebb" stroke-width="4.2" stroke-linejoin="round" stroke-linecap="butt"/><polygon points="605.00,316.00 584.40,326.40 584.40,305.60" fill="#4a7ebb"/>
<path d="M497.00,66.50 L544.30,66.50 L544.30,454.80 L509.00,483.80" fill="none" stroke="#ff9900" stroke-width="4.2" stroke-linejoin="round" stroke-linecap="butt"/><polygon points="495.50,496.50 503.04,475.33 517.09,490.26" fill="#ff9900"/>
<path d="M640.00,381.00 L640.00,528.00 L516.00,526.60" fill="none" stroke="#ffcc66" stroke-width="4.2" stroke-linejoin="round" stroke-linecap="butt"/><polygon points="497.00,526.50 517.65,516.21 517.54,537.01" fill="#ffcc66"/>
<path d="M307.50,533.90 L233.75,535.20 L233.00,200.50 L139.00,200.50 L139.00,155.00" fill="none" stroke="#ffcc66" stroke-width="4.2" stroke-linejoin="round" stroke-linecap="butt"/><polygon points="139.00,136.00 149.40,156.60 128.60,156.60" fill="#ffcc66"/>
<path d="M155.00,135.00 L155.00,185.00 L246.50,185.00 L245.00,516.60 L288.00,515.20" fill="none" stroke="#ff9900" stroke-width="4.2" stroke-linejoin="round" stroke-linecap="butt"/><polygon points="307.50,515.00 287.01,525.61 286.79,504.81" fill="#ff9900"/>
<path d="M102.00,379.50 L102.00,559.00 L286.00,559.00" fill="none" stroke="#ff9900" stroke-width="4.2" stroke-linejoin="round" stroke-linecap="butt"/><polygon points="305.00,559.00 284.40,569.40 284.40,548.60" fill="#ff9900"/>
<path d="M400.40,495.00 L400.40,400.00" fill="none" stroke="#ff9900" stroke-width="4.2" stroke-linejoin="round" stroke-linecap="butt"/><polygon points="400.40,380.80 410.80,401.40 390.00,401.40" fill="#ff9900"/>
<path d="M497.50,507.60 L623.80,507.60 L623.80,400.00" fill="none" stroke="#ff9900" stroke-width="4.2" stroke-linejoin="round" stroke-linecap="butt"/><polygon points="623.80,380.80 634.20,401.40 613.40,401.40" fill="#ff9900"/>
<path d="M496.00,559.30 L700.50,559.30 L700.50,400.00" fill="none" stroke="#ff9900" stroke-width="4.2" stroke-linejoin="round" stroke-linecap="butt"/><polygon points="700.50,380.80 710.90,401.40 690.10,401.40" fill="#ff9900"/>
<text transform="translate(671.6,466) scale(1.03,1)" style="font-family:&quot;Liberation Sans&quot;,sans-serif;font-size:24px;fill:#000">a)</text><text transform="translate(591.1,466) scale(1.03,1)" style="font-family:&quot;Liberation Sans&quot;,sans-serif;font-size:24px;fill:#000">b)</text><text transform="translate(368.5,466) scale(1.03,1)" style="font-family:&quot;Liberation Sans&quot;,sans-serif;font-size:24px;fill:#000">c)</text>
</svg>
</body></html>
